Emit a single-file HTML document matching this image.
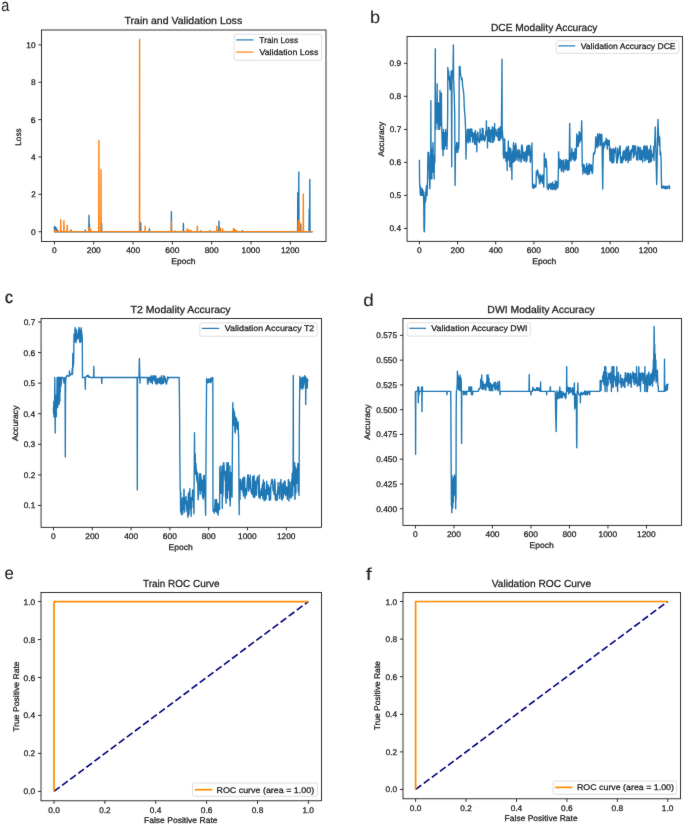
<!DOCTYPE html>
<html><head><meta charset="utf-8"><style>
html,body{margin:0;padding:0;background:#fff;}
svg{display:block;font-family:"Liberation Sans",sans-serif;text-rendering:geometricPrecision;will-change:transform;}
</style></head><body>
<svg width="685" height="825" viewBox="0 0 685 825">
<defs><filter id="soft" filterUnits="userSpaceOnUse" x="0" y="0" width="685" height="825" color-interpolation-filters="sRGB"><feConvolveMatrix order="3" kernelMatrix="1 2 1 2 40 2 1 2 1" divisor="52.0" edgeMode="duplicate"/></filter></defs>
<g filter="url(#soft)">
<rect width="685" height="825" fill="#fff"/>
<rect x="41.50" y="30.00" width="284.50" height="211.40" fill="none" stroke="#000" stroke-width="0.8"/>
<polyline points="54.4,226.1 54.6,231.7 54.8,226.5 55.0,231.7 55.2,227.3 55.4,231.7 55.6,228.0 55.8,231.7 56.0,227.6 56.2,231.7 56.4,228.9 56.6,231.7 56.8,229.5 57.0,231.7 57.2,229.9 57.4,231.7 57.6,231.7 57.8,230.8 58.0,231.7 58.2,231.7 58.4,231.4 58.6,231.7 58.8,231.7 59.0,231.7 59.1,231.7 59.3,231.7 59.5,231.7 59.7,231.7 59.9,231.7 60.1,231.7 60.3,231.7 60.5,231.7 60.7,231.7 60.9,231.7 61.1,231.7 61.3,231.7 61.5,231.7 61.7,231.7 61.9,231.7 62.1,231.7 62.3,231.7 62.5,231.7 62.7,231.7 62.9,231.7 63.1,231.7 63.3,231.7 63.5,231.7 63.7,231.7 63.9,231.7 64.1,231.7 64.3,231.7 64.5,231.7 64.7,231.7 64.8,231.7 65.0,231.7 65.2,231.7 65.4,231.7 65.6,231.7 65.8,231.7 66.0,231.7 66.2,231.7 66.4,231.7 66.6,231.7 66.8,231.7 67.0,231.7 67.2,231.7 67.4,231.7 67.6,231.7 67.8,231.7 68.0,231.7 68.2,231.7 68.4,231.7 68.6,231.7 68.8,231.7 69.0,231.7 69.2,231.7 69.4,231.7 69.6,231.7 69.8,231.7 70.0,231.7 70.2,231.7 70.4,231.7 70.5,231.7 70.7,231.7 70.9,229.9 71.1,231.7 71.3,231.7 71.5,231.7 71.7,231.7 71.9,231.7 72.1,231.7 72.3,231.7 72.5,231.7 72.7,231.7 72.9,231.7 73.1,231.7 73.3,231.7 73.5,231.7 73.7,231.7 73.9,231.7 74.1,231.7 74.3,231.7 74.5,231.7 74.7,231.7 74.9,231.7 75.1,231.7 75.3,231.7 75.5,231.7 75.7,231.7 75.9,231.7 76.1,231.7 76.3,231.7 76.4,231.7 76.6,231.7 76.8,231.7 77.0,231.7 77.2,231.7 77.4,231.7 77.6,231.7 77.8,231.7 78.0,231.7 78.2,231.7 78.4,231.7 78.6,231.7 78.8,231.7 79.0,231.7 79.2,231.7 79.4,231.7 79.6,231.7 79.8,231.7 80.0,231.7 80.2,231.7 80.4,231.7 80.6,231.7 80.8,231.7 81.0,231.7 81.2,231.7 81.4,231.7 81.6,231.7 81.8,231.7 82.0,231.7 82.1,231.7 82.3,231.7 82.5,231.7 82.7,231.7 82.9,231.7 83.1,231.7 83.3,231.7 83.5,231.7 83.7,231.7 83.9,231.7 84.1,231.7 84.3,231.7 84.5,231.7 84.7,231.7 84.9,231.7 85.1,231.7 85.3,230.2 85.5,231.7 85.7,231.7 85.9,231.7 86.1,231.7 86.3,231.7 86.5,231.7 86.7,231.7 86.9,231.7 87.1,231.7 87.3,231.7 87.5,231.7 87.7,231.7 87.8,231.7 88.0,231.7 88.2,231.7 88.4,231.7 88.6,231.7 88.8,231.7 89.0,215.3 89.2,231.7 89.4,224.3 89.6,231.7 89.8,231.7 90.0,231.7 90.2,231.7 90.4,231.7 90.6,231.7 90.8,231.7 91.0,231.7 91.2,231.7 91.4,231.7 91.6,231.7 91.8,231.7 92.0,231.7 92.2,231.7 92.4,231.7 92.6,231.7 92.8,231.7 93.0,231.7 93.2,231.7 93.4,231.7 93.6,231.7 93.7,231.7 93.9,231.7 94.1,231.7 94.3,231.7 94.5,231.7 94.7,231.7 94.9,231.7 95.1,231.7 95.3,231.7 95.5,231.7 95.7,231.7 95.9,231.7 96.1,231.7 96.3,231.7 96.5,231.7 96.7,231.7 96.9,231.7 97.1,231.7 97.3,231.7 97.5,231.7 97.7,231.7 97.9,231.7 98.1,231.7 98.3,231.7 98.5,231.7 98.7,231.7 98.9,231.7 99.1,231.7 99.3,231.7 99.4,231.7 99.6,231.7 99.8,231.7 100.0,231.7 100.2,231.7 100.4,231.7 100.6,231.7 100.8,231.7 101.0,231.7 101.2,231.7 101.4,231.7 101.6,223.3 101.8,231.7 102.0,231.7 102.2,231.7 102.4,231.7 102.6,231.7 102.8,231.7 103.0,231.7 103.2,231.7 103.4,231.7 103.6,231.7 103.8,231.7 104.0,231.7 104.2,231.7 104.4,231.7 104.6,231.7 104.8,231.7 105.0,231.7 105.1,231.7 105.3,231.7 105.5,231.7 105.7,231.7 105.9,231.7 106.1,231.7 106.3,231.7 106.5,231.7 106.7,231.7 106.9,231.7 107.1,231.7 107.3,231.7 107.5,231.7 107.7,231.7 107.9,231.7 108.1,231.7 108.3,231.7 108.5,231.7 108.7,231.7 108.9,231.7 109.1,231.7 109.3,231.7 109.5,231.7 109.7,231.7 109.9,231.7 110.1,231.7 110.3,231.7 110.5,231.7 110.7,231.7 110.8,231.7 111.0,231.7 111.2,231.7 111.4,231.7 111.6,231.7 111.8,231.7 112.0,231.7 112.2,231.7 112.4,231.7 112.6,231.7 112.8,231.7 113.0,231.7 113.2,231.7 113.4,231.7 113.6,231.7 113.8,231.7 114.0,231.7 114.2,231.7 114.4,231.7 114.6,231.7 114.8,231.7 115.0,231.7 115.2,231.7 115.4,231.7 115.6,231.7 115.8,231.7 116.0,231.7 116.2,231.7 116.4,231.7 116.6,231.7 116.7,231.7 116.9,231.7 117.1,231.7 117.3,231.7 117.5,231.7 117.7,231.7 117.9,231.7 118.1,231.7 118.3,231.7 118.5,231.7 118.7,231.7 118.9,231.7 119.1,231.7 119.3,231.7 119.5,231.7 119.7,231.7 119.9,231.7 120.1,231.7 120.3,231.7 120.5,231.7 120.7,231.7 120.9,231.7 121.1,231.7 121.3,231.7 121.5,231.7 121.7,231.7 121.9,231.7 122.1,231.7 122.3,231.7 122.4,231.7 122.6,231.7 122.8,231.7 123.0,231.7 123.2,231.7 123.4,231.7 123.6,231.7 123.8,231.7 124.0,231.7 124.2,231.7 124.4,231.7 124.6,231.7 124.8,231.7 125.0,231.7 125.2,231.7 125.4,231.7 125.6,231.7 125.8,231.7 126.0,231.7 126.2,231.7 126.4,231.7 126.6,231.7 126.8,231.7 127.0,231.7 127.2,231.7 127.4,231.7 127.6,231.7 127.8,231.7 128.0,231.7 128.1,231.7 128.3,231.7 128.5,231.7 128.7,231.7 128.9,231.7 129.1,231.7 129.3,231.7 129.5,231.7 129.7,231.7 129.9,231.7 130.1,231.7 130.3,231.7 130.5,231.7 130.7,231.7 130.9,231.7 131.1,231.7 131.3,231.7 131.5,231.7 131.7,231.7 131.9,231.7 132.1,231.7 132.3,231.7 132.5,231.7 132.7,231.7 132.9,231.7 133.1,231.7 133.3,231.7 133.5,231.7 133.7,231.7 133.8,231.7 134.0,231.7 134.2,231.7 134.4,231.7 134.6,231.7 134.8,231.7 135.0,231.7 135.2,231.7 135.4,231.7 135.6,231.7 135.8,231.7 136.0,231.7 136.2,231.7 136.4,231.7 136.6,231.7 136.8,231.7 137.0,231.7 137.2,231.7 137.4,231.7 137.6,231.7 137.8,231.7 138.0,231.7 138.2,231.7 138.4,231.7 138.6,231.7 138.8,231.7 139.0,231.7 139.2,231.7 139.4,231.7 139.6,231.7 139.7,231.7 139.9,231.7 140.1,231.7 140.3,231.7 140.5,231.7 140.7,222.6 140.9,231.7 141.1,231.7 141.3,231.7 141.5,231.7 141.7,231.7 141.9,231.7 142.1,231.7 142.3,231.7 142.5,231.7 142.7,231.7 142.9,231.7 143.1,231.7 143.3,231.7 143.5,231.7 143.7,231.7 143.9,231.7 144.1,231.7 144.3,231.7 144.5,231.7 144.7,231.7 144.9,231.7 145.1,231.7 145.3,231.7 145.4,231.7 145.6,231.7 145.8,231.7 146.0,231.7 146.2,231.7 146.4,231.7 146.6,231.7 146.8,231.7 147.0,231.7 147.2,231.7 147.4,231.7 147.6,231.7 147.8,231.7 148.0,231.7 148.2,231.7 148.4,231.7 148.6,231.7 148.8,231.7 149.0,231.7 149.2,231.7 149.4,228.9 149.6,231.7 149.8,231.7 150.0,231.7 150.2,231.7 150.4,231.7 150.6,231.7 150.8,231.7 151.0,231.7 151.1,231.7 151.3,231.7 151.5,231.7 151.7,231.7 151.9,231.7 152.1,231.7 152.3,231.7 152.5,231.7 152.7,231.7 152.9,231.7 153.1,231.7 153.3,231.7 153.5,231.7 153.7,231.7 153.9,231.7 154.1,231.7 154.3,231.7 154.5,231.7 154.7,231.7 154.9,231.7 155.1,231.7 155.3,231.7 155.5,231.7 155.7,231.7 155.9,231.7 156.1,231.7 156.3,231.7 156.5,231.7 156.7,231.7 156.8,231.7 157.0,231.7 157.2,231.7 157.4,231.7 157.6,231.7 157.8,231.7 158.0,231.7 158.2,231.7 158.4,231.7 158.6,231.7 158.8,231.7 159.0,231.7 159.2,231.7 159.4,231.7 159.6,231.7 159.8,231.7 160.0,231.7 160.2,231.7 160.4,231.7 160.6,231.7 160.8,231.7 161.0,231.7 161.2,231.7 161.4,231.7 161.6,231.7 161.8,231.7 162.0,231.7 162.2,231.7 162.4,231.7 162.6,231.7 162.7,231.7 162.9,231.7 163.1,231.7 163.3,231.7 163.5,231.7 163.7,231.7 163.9,231.7 164.1,231.7 164.3,231.7 164.5,231.7 164.7,231.7 164.9,231.7 165.1,231.7 165.3,231.7 165.5,231.7 165.7,231.7 165.9,231.7 166.1,231.7 166.3,231.7 166.5,231.7 166.7,231.7 166.9,231.7 167.1,231.7 167.3,231.7 167.5,231.7 167.7,231.7 167.9,231.7 168.1,231.7 168.3,231.7 168.4,231.7 168.6,231.7 168.8,231.7 169.0,231.7 169.2,231.7 169.4,231.7 169.6,231.7 169.8,231.7 170.0,231.7 170.2,231.7 170.4,231.7 170.6,231.7 170.8,231.7 171.0,231.7 171.2,231.7 171.4,211.6 171.6,231.7 171.8,231.7 172.0,231.7 172.2,231.7 172.4,231.7 172.6,231.7 172.8,231.7 173.0,231.7 173.2,231.7 173.4,231.7 173.6,231.7 173.8,231.7 174.0,231.7 174.1,231.7 174.3,231.7 174.5,231.7 174.7,231.7 174.9,231.7 175.1,231.7 175.3,231.7 175.5,231.7 175.7,231.7 175.9,231.7 176.1,231.7 176.3,231.7 176.5,231.7 176.7,231.7 176.9,231.7 177.1,231.7 177.3,231.7 177.5,231.7 177.7,231.7 177.9,231.7 178.1,231.7 178.3,231.7 178.5,231.7 178.7,231.7 178.9,231.7 179.1,231.7 179.3,231.7 179.5,231.7 179.7,231.7 179.9,231.7 180.0,231.7 180.2,231.7 180.4,231.7 180.6,231.7 180.8,231.7 181.0,231.7 181.2,231.7 181.4,231.7 181.6,231.7 181.8,231.7 182.0,231.7 182.2,231.7 182.4,231.7 182.6,231.7 182.8,231.7 183.0,231.7 183.2,231.7 183.4,223.3 183.6,231.7 183.8,231.7 184.0,231.7 184.2,231.7 184.4,231.7 184.6,231.7 184.8,231.7 185.0,231.7 185.2,231.7 185.4,231.7 185.6,231.7 185.7,231.7 185.9,231.7 186.1,231.7 186.3,231.7 186.5,231.7 186.7,231.7 186.9,231.7 187.1,231.7 187.3,231.7 187.5,231.7 187.7,231.7 187.9,231.7 188.1,231.7 188.3,231.7 188.5,231.7 188.7,231.7 188.9,231.7 189.1,231.7 189.3,231.7 189.5,231.7 189.7,231.7 189.9,231.7 190.1,231.7 190.3,231.7 190.5,231.7 190.7,231.7 190.9,231.7 191.1,231.7 191.3,231.7 191.4,231.7 191.6,231.7 191.8,231.7 192.0,231.7 192.2,231.7 192.4,231.7 192.6,231.7 192.8,231.7 193.0,231.7 193.2,231.7 193.4,231.7 193.6,231.7 193.8,231.7 194.0,231.7 194.2,231.7 194.4,231.7 194.6,231.7 194.8,231.7 195.0,231.7 195.2,231.7 195.4,231.7 195.6,231.7 195.8,231.7 196.0,231.7 196.2,231.7 196.4,231.7 196.6,231.7 196.8,231.7 197.0,231.7 197.1,231.7 197.3,231.7 197.5,231.7 197.7,231.7 197.9,231.7 198.1,231.7 198.3,231.7 198.5,231.7 198.7,231.7 198.9,231.7 199.1,231.7 199.3,231.7 199.5,231.7 199.7,231.7 199.9,231.7 200.1,231.7 200.3,231.7 200.5,231.7 200.7,231.7 200.9,230.8 201.1,231.7 201.3,231.7 201.5,231.7 201.7,231.7 201.9,231.7 202.1,231.7 202.3,231.7 202.5,231.7 202.7,231.7 202.9,231.7 203.0,231.7 203.2,231.7 203.4,231.7 203.6,231.7 203.8,231.7 204.0,231.7 204.2,231.7 204.4,231.7 204.6,231.7 204.8,231.7 205.0,231.7 205.2,231.7 205.4,231.7 205.6,231.7 205.8,231.7 206.0,231.7 206.2,231.7 206.4,231.7 206.6,231.7 206.8,231.7 207.0,231.7 207.2,231.7 207.4,231.7 207.6,231.7 207.8,231.7 208.0,231.7 208.2,231.7 208.4,231.7 208.6,231.7 208.7,231.7 208.9,231.7 209.1,231.7 209.3,231.7 209.5,231.7 209.7,231.7 209.9,230.6 210.1,231.7 210.3,231.7 210.5,231.7 210.7,231.7 210.9,231.7 211.1,231.7 211.3,231.7 211.5,231.7 211.7,231.7 211.9,231.7 212.1,231.7 212.3,231.7 212.5,231.7 212.7,231.7 212.9,231.7 213.1,231.7 213.3,231.7 213.5,231.7 213.7,231.7 213.9,231.7 214.1,231.7 214.3,231.7 214.4,231.7 214.6,231.7 214.8,231.7 215.0,231.7 215.2,231.7 215.4,231.7 215.6,231.7 215.8,231.7 216.0,231.7 216.2,231.7 216.4,231.7 216.6,231.7 216.8,231.7 217.0,231.7 217.2,231.7 217.4,231.7 217.6,231.7 217.8,231.7 218.0,231.7 218.2,231.7 218.4,231.7 218.6,231.7 218.8,231.7 219.0,221.1 219.2,231.7 219.4,231.7 219.6,231.7 219.8,231.7 220.0,231.7 220.1,231.7 220.3,231.7 220.5,231.7 220.7,231.7 220.9,231.7 221.1,231.7 221.3,231.7 221.5,231.7 221.7,231.7 221.9,231.7 222.1,231.7 222.3,231.7 222.5,231.7 222.7,231.7 222.9,231.7 223.1,231.7 223.3,231.7 223.5,231.7 223.7,231.7 223.9,231.7 224.1,231.7 224.3,231.7 224.5,231.7 224.7,231.7 224.9,231.7 225.1,231.7 225.3,231.7 225.5,231.7 225.7,231.7 225.9,231.7 226.0,231.7 226.2,231.7 226.4,231.7 226.6,231.7 226.8,231.7 227.0,231.7 227.2,231.7 227.4,231.7 227.6,231.7 227.8,231.7 228.0,231.7 228.2,231.7 228.4,231.7 228.6,231.7 228.8,231.7 229.0,231.7 229.2,231.7 229.4,231.7 229.6,231.7 229.8,231.7 230.0,231.7 230.2,231.7 230.4,231.7 230.6,231.7 230.8,231.7 231.0,231.7 231.2,231.7 231.4,231.7 231.6,231.7 231.7,231.7 231.9,231.7 232.1,231.7 232.3,231.7 232.5,231.7 232.7,231.7 232.9,231.7 233.1,231.7 233.3,231.7 233.5,231.7 233.7,231.7 233.9,231.7 234.1,231.7 234.3,231.7 234.5,231.7 234.7,231.7 234.9,231.7 235.1,231.7 235.3,231.7 235.5,231.7 235.7,231.7 235.9,231.7 236.1,231.7 236.3,231.7 236.5,231.7 236.7,231.7 236.9,231.7 237.1,231.7 237.3,231.7 237.4,231.7 237.6,231.7 237.8,231.7 238.0,231.7 238.2,231.7 238.4,231.7 238.6,231.7 238.8,231.7 239.0,231.7 239.2,231.7 239.4,231.7 239.6,231.7 239.8,231.7 240.0,231.7 240.2,231.7 240.4,231.7 240.6,231.7 240.8,231.7 241.0,231.7 241.2,231.7 241.4,231.7 241.6,231.7 241.8,231.7 242.0,231.7 242.2,231.7 242.4,231.7 242.6,230.6 242.8,231.7 243.0,231.7 243.1,231.7 243.3,231.7 243.5,231.7 243.7,231.7 243.9,231.7 244.1,231.7 244.3,231.7 244.5,231.7 244.7,231.7 244.9,231.7 245.1,231.7 245.3,231.7 245.5,231.7 245.7,231.7 245.9,231.7 246.1,231.7 246.3,231.7 246.5,231.7 246.7,231.7 246.9,231.7 247.1,231.7 247.3,231.7 247.5,231.7 247.7,231.7 247.9,231.7 248.1,231.7 248.3,231.7 248.5,231.7 248.7,231.7 248.9,231.7 249.0,231.7 249.2,231.7 249.4,231.7 249.6,231.7 249.8,231.7 250.0,231.7 250.2,231.7 250.4,231.7 250.6,231.7 250.8,231.7 251.0,231.7 251.2,231.7 251.4,231.7 251.6,231.7 251.8,231.7 252.0,231.7 252.2,231.7 252.4,231.7 252.6,231.7 252.8,231.7 253.0,231.7 253.2,231.7 253.4,231.7 253.6,231.7 253.8,231.7 254.0,231.7 254.2,231.7 254.4,231.7 254.6,231.7 254.7,231.7 254.9,231.7 255.1,231.7 255.3,231.7 255.5,231.7 255.7,231.7 255.9,231.7 256.1,231.7 256.3,231.7 256.5,231.7 256.7,231.7 256.9,231.7 257.1,231.7 257.3,231.7 257.5,231.7 257.7,231.7 257.9,231.7 258.1,231.7 258.3,231.7 258.5,231.7 258.7,231.7 258.9,231.7 259.1,231.7 259.3,231.7 259.5,231.7 259.7,231.7 259.9,231.7 260.1,231.7 260.3,231.7 260.4,231.7 260.6,231.7 260.8,231.7 261.0,231.7 261.2,231.7 261.4,231.7 261.6,231.7 261.8,231.7 262.0,231.7 262.2,231.7 262.4,231.7 262.6,231.7 262.8,231.7 263.0,231.7 263.2,231.7 263.4,231.7 263.6,231.7 263.8,231.7 264.0,231.7 264.2,231.7 264.4,231.7 264.6,231.7 264.8,231.7 265.0,231.7 265.2,231.7 265.4,231.7 265.6,231.7 265.8,231.7 266.0,231.7 266.2,231.7 266.3,231.7 266.5,231.7 266.7,231.7 266.9,231.7 267.1,231.7 267.3,231.7 267.5,231.7 267.7,231.7 267.9,231.7 268.1,231.7 268.3,231.7 268.5,231.7 268.7,231.7 268.9,231.7 269.1,231.7 269.3,231.7 269.5,231.7 269.7,231.7 269.9,231.7 270.1,231.7 270.3,231.7 270.5,231.7 270.7,231.7 270.9,231.7 271.1,231.7 271.3,231.7 271.5,231.7 271.7,231.7 271.9,231.7 272.0,231.7 272.2,231.7 272.4,231.7 272.6,231.7 272.8,231.7 273.0,231.7 273.2,231.7 273.4,231.7 273.6,231.7 273.8,231.7 274.0,231.7 274.2,231.7 274.4,231.7 274.6,231.7 274.8,231.7 275.0,231.7 275.2,231.7 275.4,231.7 275.6,231.7 275.8,231.7 276.0,231.7 276.2,231.7 276.4,231.7 276.6,231.7 276.8,231.7 277.0,231.7 277.2,231.7 277.4,231.7 277.6,231.7 277.7,231.7 277.9,231.7 278.1,231.7 278.3,231.7 278.5,231.7 278.7,231.7 278.9,231.7 279.1,231.7 279.3,231.7 279.5,231.7 279.7,231.7 279.9,231.7 280.1,231.7 280.3,231.7 280.5,231.7 280.7,231.7 280.9,231.7 281.1,231.7 281.3,231.7 281.5,231.7 281.7,231.7 281.9,231.7 282.1,231.7 282.3,231.7 282.5,231.7 282.7,231.7 282.9,231.7 283.1,231.7 283.3,231.7 283.4,231.7 283.6,231.7 283.8,231.7 284.0,231.7 284.2,231.7 284.4,231.7 284.6,231.7 284.8,231.7 285.0,231.7 285.2,231.7 285.4,231.7 285.6,231.7 285.8,231.7 286.0,231.7 286.2,231.7 286.4,231.7 286.6,231.7 286.8,231.7 287.0,231.7 287.2,231.7 287.4,231.7 287.6,231.7 287.8,231.7 288.0,231.7 288.2,231.7 288.4,231.7 288.6,231.7 288.8,231.7 289.0,231.7 289.2,231.7 289.3,231.7 289.5,231.7 289.7,231.7 289.9,231.7 290.1,231.7 290.3,231.7 290.5,231.7 290.7,231.7 290.9,231.7 291.1,231.7 291.3,231.7 291.5,231.7 291.7,231.7 291.9,231.7 292.1,231.7 292.3,231.7 292.5,231.7 292.7,231.7 292.9,231.7 293.1,231.7 293.3,231.7 293.5,231.7 293.7,231.7 293.9,231.7 294.1,231.7 294.3,231.7 294.5,231.7 294.7,231.7 294.9,231.7 295.0,231.7 295.2,231.7 295.4,231.7 295.6,231.7 295.8,231.7 296.0,231.7 296.2,231.7 296.4,231.7 296.6,231.7 296.8,231.7 297.0,231.7 297.2,231.7 297.4,231.7 297.6,231.7 297.8,192.5 298.0,231.7 298.2,231.7 298.4,231.7 298.6,231.7 298.8,171.9 299.0,231.7 299.2,231.7 299.4,231.7 299.6,231.7 299.8,231.7 300.0,231.7 300.2,231.7 300.4,231.7 300.6,231.7 300.7,224.1 300.9,231.7 301.1,231.7 301.3,231.7 301.5,231.7 301.7,231.7 301.9,231.7 302.1,231.7 302.3,231.7 302.5,231.7 302.7,231.7 302.9,231.7 303.1,231.7 303.3,231.7 303.5,231.7 303.7,231.7 303.9,231.7 304.1,231.7 304.3,231.7 304.5,231.7 304.7,231.7 304.9,231.7 305.1,231.7 305.3,231.7 305.5,231.7 305.7,231.7 305.9,231.7 306.1,231.7 306.3,231.7 306.4,231.7 306.6,231.7 306.8,231.7 307.0,231.7 307.2,231.7 307.4,231.7 307.6,231.7 307.8,231.7 308.0,231.7 308.2,231.7 308.4,231.7 308.6,231.7 308.8,231.7 309.0,231.7 309.2,209.3 309.4,231.7 309.6,231.7 309.8,179.4 310.0,231.7 310.2,231.7 310.4,231.7 310.6,231.7 310.8,231.7 311.0,231.7 311.2,231.7 311.4,231.7 311.6,231.7 311.8,231.7 312.0,231.7 312.2,231.7 312.3,231.7 312.5,231.7" fill="none" stroke="#1f77b4" stroke-width="1.35" stroke-linejoin="round" />
<polyline points="54.4,229.9 54.6,231.6 54.8,231.6 55.0,230.6 55.2,231.6 55.4,231.6 55.6,230.2 55.8,231.6 56.0,231.6 56.2,231.6 56.4,230.8 56.6,231.6 56.8,231.6 57.0,231.6 57.2,231.6 57.4,231.6 57.6,231.6 57.8,231.6 58.0,231.6 58.2,231.6 58.4,231.6 58.6,231.6 58.8,231.6 59.0,231.6 59.1,231.6 59.3,231.6 59.5,231.6 59.7,231.6 59.9,231.6 60.1,231.6 60.3,231.6 60.5,231.6 60.7,219.7 60.9,231.6 61.1,231.6 61.3,231.6 61.5,231.6 61.7,231.6 61.9,231.6 62.1,231.6 62.3,231.6 62.5,231.6 62.7,231.6 62.9,231.6 63.1,231.6 63.3,231.6 63.5,231.6 63.7,231.6 63.9,220.7 64.1,231.6 64.3,231.6 64.5,231.6 64.7,231.6 64.8,231.6 65.0,231.6 65.2,231.6 65.4,231.6 65.6,231.6 65.8,231.6 66.0,231.6 66.2,231.6 66.4,231.6 66.6,231.6 66.8,231.6 67.0,231.6 67.2,225.2 67.4,231.6 67.6,231.6 67.8,231.6 68.0,231.6 68.2,231.6 68.4,231.6 68.6,231.6 68.8,231.6 69.0,231.6 69.2,231.6 69.4,231.6 69.6,231.6 69.8,231.6 70.0,231.6 70.2,231.6 70.4,231.6 70.5,231.6 70.7,231.6 70.9,229.9 71.1,231.6 71.3,231.6 71.5,231.6 71.7,231.6 71.9,231.6 72.1,231.6 72.3,231.6 72.5,231.6 72.7,231.6 72.9,231.6 73.1,231.6 73.3,231.6 73.5,231.6 73.7,231.6 73.9,231.6 74.1,231.6 74.3,231.6 74.5,231.6 74.7,231.6 74.9,231.6 75.1,231.6 75.3,231.6 75.5,231.6 75.7,231.6 75.9,231.6 76.1,231.6 76.3,231.6 76.4,231.6 76.6,231.6 76.8,231.6 77.0,231.6 77.2,231.6 77.4,231.6 77.6,231.6 77.8,231.6 78.0,231.6 78.2,231.6 78.4,231.6 78.6,231.6 78.8,231.6 79.0,231.6 79.2,231.6 79.4,231.6 79.6,231.6 79.8,231.6 80.0,231.6 80.2,231.6 80.4,231.6 80.6,231.6 80.8,231.6 81.0,231.6 81.2,231.6 81.4,231.6 81.6,231.6 81.8,231.6 82.0,231.6 82.1,231.6 82.3,231.6 82.5,231.6 82.7,231.6 82.9,231.6 83.1,231.6 83.3,231.6 83.5,231.6 83.7,231.6 83.9,231.6 84.1,231.6 84.3,231.6 84.5,231.6 84.7,231.6 84.9,231.6 85.1,231.6 85.3,231.6 85.5,231.6 85.7,231.6 85.9,231.6 86.1,231.6 86.3,231.6 86.5,231.6 86.7,231.6 86.9,231.6 87.1,231.6 87.3,231.6 87.5,231.6 87.7,231.6 87.8,231.6 88.0,231.6 88.2,231.6 88.4,231.6 88.6,231.6 88.8,231.6 89.0,227.1 89.2,231.6 89.4,231.6 89.6,231.6 89.8,228.0 90.0,231.6 90.2,231.6 90.4,231.6 90.6,231.6 90.8,229.5 91.0,231.6 91.2,231.6 91.4,231.6 91.6,231.6 91.8,231.6 92.0,231.6 92.2,231.6 92.4,231.6 92.6,231.6 92.8,231.6 93.0,231.6 93.2,231.6 93.4,231.6 93.6,231.6 93.7,231.6 93.9,231.6 94.1,231.6 94.3,231.6 94.5,231.6 94.7,231.6 94.9,231.6 95.1,231.6 95.3,231.6 95.5,231.6 95.7,231.6 95.9,231.6 96.1,231.6 96.3,231.6 96.5,231.6 96.7,231.6 96.9,231.6 97.1,231.6 97.3,231.6 97.5,231.6 97.7,231.6 97.9,231.6 98.1,231.6 98.3,231.6 98.5,231.6 98.7,231.6 98.9,140.2 99.1,231.6 99.3,231.6 99.4,231.6 99.6,231.6 99.8,231.6 100.0,231.6 100.2,231.6 100.4,231.6 100.6,231.6 100.8,231.6 101.0,169.7 101.2,231.6 101.4,231.6 101.6,231.6 101.8,231.6 102.0,231.6 102.2,231.6 102.4,231.6 102.6,231.6 102.8,231.6 103.0,231.6 103.2,231.6 103.4,231.6 103.6,231.6 103.8,231.6 104.0,231.6 104.2,231.6 104.4,231.6 104.6,231.6 104.8,231.6 105.0,231.6 105.1,231.6 105.3,231.6 105.5,231.6 105.7,231.6 105.9,231.6 106.1,231.6 106.3,231.6 106.5,231.6 106.7,231.6 106.9,231.6 107.1,231.6 107.3,231.6 107.5,231.6 107.7,231.6 107.9,231.6 108.1,231.6 108.3,231.6 108.5,231.6 108.7,231.6 108.9,231.6 109.1,231.6 109.3,231.6 109.5,231.6 109.7,231.6 109.9,231.6 110.1,231.6 110.3,231.6 110.5,231.6 110.7,231.6 110.8,231.6 111.0,231.6 111.2,231.6 111.4,231.6 111.6,231.6 111.8,231.6 112.0,231.6 112.2,231.6 112.4,231.6 112.6,231.6 112.8,231.6 113.0,231.6 113.2,231.6 113.4,231.6 113.6,231.6 113.8,231.6 114.0,231.6 114.2,231.6 114.4,231.6 114.6,231.6 114.8,231.6 115.0,231.6 115.2,231.6 115.4,231.6 115.6,231.6 115.8,231.6 116.0,231.6 116.2,231.6 116.4,231.6 116.6,231.6 116.7,231.6 116.9,231.6 117.1,231.6 117.3,231.6 117.5,231.6 117.7,231.6 117.9,231.6 118.1,231.6 118.3,231.6 118.5,231.6 118.7,231.6 118.9,231.6 119.1,231.6 119.3,231.6 119.5,231.6 119.7,231.6 119.9,231.6 120.1,231.6 120.3,231.6 120.5,231.6 120.7,231.6 120.9,231.6 121.1,231.6 121.3,231.6 121.5,231.6 121.7,231.6 121.9,231.6 122.1,231.6 122.3,231.6 122.4,231.6 122.6,231.6 122.8,231.6 123.0,231.6 123.2,231.6 123.4,231.6 123.6,231.6 123.8,231.6 124.0,231.6 124.2,231.6 124.4,231.6 124.6,231.6 124.8,231.6 125.0,231.6 125.2,231.6 125.4,231.6 125.6,231.6 125.8,231.6 126.0,231.6 126.2,231.6 126.4,231.6 126.6,231.6 126.8,231.6 127.0,231.6 127.2,231.6 127.4,231.6 127.6,231.6 127.8,231.6 128.0,231.6 128.1,231.6 128.3,231.6 128.5,231.6 128.7,231.6 128.9,231.6 129.1,231.6 129.3,231.6 129.5,231.6 129.7,231.6 129.9,231.6 130.1,231.6 130.3,231.6 130.5,231.6 130.7,231.6 130.9,231.6 131.1,231.6 131.3,231.6 131.5,231.6 131.7,231.6 131.9,231.6 132.1,231.6 132.3,231.6 132.5,231.6 132.7,231.6 132.9,231.6 133.1,231.6 133.3,231.6 133.5,231.6 133.7,231.6 133.8,231.6 134.0,231.6 134.2,231.6 134.4,231.6 134.6,231.6 134.8,231.6 135.0,231.6 135.2,231.6 135.4,231.6 135.6,231.6 135.8,231.6 136.0,231.6 136.2,231.6 136.4,231.6 136.6,231.6 136.8,231.6 137.0,231.6 137.2,231.6 137.4,231.6 137.6,231.6 137.8,231.6 138.0,231.6 138.2,231.6 138.4,231.6 138.6,231.6 138.8,231.6 139.0,231.6 139.2,231.6 139.4,231.6 139.6,39.3 139.7,231.6 139.9,231.6 140.1,231.6 140.3,231.6 140.5,231.6 140.7,231.6 140.9,231.6 141.1,231.6 141.3,231.6 141.5,231.6 141.7,231.6 141.9,231.6 142.1,231.6 142.3,231.6 142.5,231.6 142.7,231.6 142.9,231.6 143.1,231.6 143.3,231.6 143.5,231.6 143.7,231.6 143.9,231.6 144.1,231.6 144.3,231.6 144.5,231.6 144.7,231.6 144.9,231.6 145.1,226.1 145.3,231.6 145.4,231.6 145.6,231.6 145.8,231.6 146.0,231.6 146.2,231.6 146.4,231.6 146.6,231.6 146.8,231.6 147.0,231.6 147.2,231.6 147.4,231.6 147.6,231.6 147.8,231.6 148.0,231.6 148.2,231.6 148.4,231.6 148.6,231.6 148.8,231.6 149.0,231.6 149.2,231.6 149.4,231.6 149.6,231.6 149.8,231.6 150.0,231.6 150.2,231.6 150.4,231.6 150.6,231.6 150.8,231.6 151.0,231.6 151.1,231.6 151.3,231.6 151.5,231.6 151.7,231.6 151.9,231.6 152.1,231.6 152.3,231.6 152.5,231.6 152.7,231.6 152.9,231.6 153.1,231.6 153.3,231.6 153.5,231.6 153.7,231.6 153.9,231.6 154.1,231.6 154.3,231.6 154.5,231.6 154.7,231.6 154.9,231.6 155.1,231.6 155.3,231.6 155.5,231.6 155.7,231.6 155.9,231.6 156.1,231.6 156.3,231.6 156.5,231.6 156.7,231.6 156.8,231.6 157.0,231.6 157.2,231.6 157.4,231.6 157.6,231.6 157.8,231.6 158.0,231.6 158.2,231.6 158.4,231.6 158.6,231.6 158.8,231.6 159.0,231.6 159.2,231.6 159.4,231.6 159.6,231.6 159.8,231.6 160.0,231.6 160.2,231.6 160.4,231.6 160.6,231.6 160.8,231.6 161.0,231.6 161.2,231.6 161.4,231.6 161.6,231.6 161.8,231.6 162.0,231.6 162.2,231.6 162.4,231.6 162.6,231.6 162.7,231.6 162.9,231.6 163.1,231.6 163.3,231.6 163.5,231.6 163.7,231.6 163.9,231.6 164.1,231.6 164.3,231.6 164.5,231.6 164.7,231.6 164.9,231.6 165.1,231.6 165.3,231.6 165.5,231.6 165.7,231.6 165.9,231.6 166.1,231.6 166.3,231.6 166.5,231.6 166.7,231.6 166.9,231.6 167.1,231.6 167.3,231.6 167.5,231.6 167.7,231.6 167.9,231.6 168.1,231.6 168.3,231.6 168.4,231.6 168.6,231.6 168.8,231.6 169.0,231.6 169.2,231.6 169.4,231.6 169.6,231.6 169.8,231.6 170.0,231.6 170.2,231.6 170.4,231.6 170.6,231.6 170.8,231.6 171.0,231.6 171.2,231.6 171.4,221.8 171.6,231.6 171.8,231.6 172.0,231.6 172.2,231.6 172.4,231.6 172.6,231.6 172.8,231.6 173.0,231.6 173.2,231.6 173.4,231.6 173.6,231.6 173.8,231.6 174.0,231.6 174.1,231.6 174.3,231.6 174.5,231.6 174.7,231.6 174.9,231.6 175.1,231.6 175.3,230.8 175.5,231.6 175.7,231.6 175.9,231.6 176.1,231.6 176.3,231.6 176.5,231.6 176.7,231.6 176.9,231.6 177.1,231.6 177.3,231.6 177.5,231.6 177.7,231.6 177.9,231.6 178.1,231.6 178.3,231.6 178.5,231.6 178.7,231.6 178.9,231.6 179.1,231.6 179.3,231.6 179.5,231.6 179.7,231.6 179.9,231.6 180.0,231.6 180.2,231.6 180.4,231.6 180.6,231.6 180.8,231.6 181.0,231.6 181.2,231.6 181.4,231.6 181.6,231.6 181.8,231.6 182.0,231.6 182.2,231.6 182.4,231.6 182.6,231.6 182.8,231.6 183.0,231.6 183.2,231.6 183.4,231.6 183.6,231.6 183.8,231.6 184.0,231.6 184.2,231.6 184.4,231.6 184.6,231.6 184.8,231.6 185.0,231.6 185.2,231.6 185.4,231.6 185.6,231.6 185.7,231.6 185.9,231.6 186.1,231.6 186.3,231.6 186.5,231.6 186.7,231.6 186.9,231.6 187.1,228.9 187.3,231.6 187.5,231.6 187.7,231.6 187.9,231.6 188.1,229.5 188.3,231.6 188.5,231.6 188.7,231.6 188.9,231.6 189.1,231.6 189.3,231.6 189.5,231.6 189.7,231.6 189.9,231.6 190.1,230.2 190.3,231.6 190.5,231.6 190.7,231.6 190.9,231.6 191.1,231.6 191.3,231.6 191.4,230.8 191.6,231.6 191.8,231.6 192.0,231.6 192.2,231.6 192.4,231.6 192.6,231.6 192.8,231.6 193.0,231.6 193.2,231.6 193.4,231.6 193.6,231.6 193.8,231.6 194.0,231.6 194.2,231.6 194.4,231.6 194.6,231.6 194.8,231.6 195.0,231.6 195.2,231.6 195.4,231.6 195.6,231.6 195.8,231.6 196.0,231.6 196.2,231.6 196.4,231.6 196.6,231.6 196.8,231.6 197.0,231.6 197.1,231.6 197.3,226.1 197.5,231.6 197.7,231.6 197.9,231.6 198.1,231.6 198.3,231.6 198.5,231.6 198.7,231.6 198.9,231.6 199.1,231.6 199.3,231.6 199.5,231.6 199.7,231.6 199.9,231.6 200.1,231.6 200.3,231.6 200.5,231.6 200.7,231.6 200.9,231.6 201.1,231.6 201.3,231.6 201.5,231.6 201.7,231.6 201.9,231.6 202.1,231.6 202.3,231.6 202.5,231.6 202.7,231.6 202.9,231.6 203.0,231.6 203.2,231.6 203.4,231.6 203.6,231.6 203.8,231.6 204.0,231.6 204.2,231.6 204.4,231.6 204.6,231.6 204.8,231.6 205.0,231.6 205.2,231.6 205.4,231.6 205.6,231.6 205.8,231.6 206.0,231.6 206.2,231.6 206.4,231.6 206.6,231.6 206.8,231.6 207.0,231.6 207.2,231.6 207.4,231.6 207.6,231.6 207.8,231.6 208.0,231.6 208.2,231.6 208.4,231.6 208.6,231.6 208.7,231.6 208.9,231.6 209.1,231.6 209.3,231.6 209.5,231.6 209.7,231.6 209.9,231.6 210.1,231.6 210.3,231.6 210.5,231.6 210.7,231.6 210.9,231.6 211.1,231.6 211.3,231.6 211.5,231.6 211.7,231.6 211.9,231.6 212.1,231.6 212.3,231.6 212.5,231.6 212.7,231.6 212.9,231.6 213.1,231.6 213.3,231.6 213.5,231.6 213.7,231.6 213.9,231.6 214.1,231.6 214.3,231.6 214.4,231.6 214.6,231.6 214.8,231.6 215.0,231.6 215.2,231.6 215.4,231.6 215.6,231.6 215.8,231.6 216.0,231.6 216.2,231.6 216.4,231.6 216.6,231.6 216.8,226.1 217.0,231.6 217.2,231.6 217.4,231.6 217.6,231.6 217.8,231.6 218.0,231.6 218.2,231.6 218.4,231.6 218.6,231.6 218.8,231.6 219.0,231.6 219.2,231.6 219.4,231.6 219.6,231.6 219.8,231.6 220.0,231.6 220.1,231.6 220.3,231.6 220.5,228.0 220.7,231.6 220.9,231.6 221.1,231.6 221.3,231.6 221.5,231.6 221.7,231.6 221.9,231.6 222.1,231.6 222.3,231.6 222.5,231.6 222.7,228.9 222.9,231.6 223.1,231.6 223.3,231.6 223.5,231.6 223.7,231.6 223.9,231.6 224.1,231.6 224.3,231.6 224.5,231.6 224.7,231.6 224.9,231.6 225.1,231.6 225.3,231.6 225.5,231.6 225.7,231.6 225.9,231.6 226.0,231.6 226.2,231.6 226.4,231.6 226.6,231.6 226.8,231.6 227.0,231.6 227.2,231.6 227.4,231.6 227.6,231.6 227.8,231.6 228.0,231.6 228.2,231.6 228.4,231.6 228.6,231.6 228.8,231.6 229.0,231.6 229.2,231.6 229.4,231.6 229.6,231.6 229.8,231.6 230.0,231.6 230.2,231.6 230.4,231.6 230.6,231.6 230.8,231.6 231.0,231.6 231.2,231.6 231.4,231.6 231.6,231.6 231.7,231.6 231.9,231.6 232.1,231.6 232.3,231.6 232.5,231.6 232.7,231.6 232.9,231.6 233.1,231.6 233.3,231.6 233.5,228.4 233.7,231.6 233.9,231.6 234.1,231.6 234.3,229.1 234.5,231.6 234.7,231.6 234.9,231.6 235.1,231.6 235.3,229.9 235.5,231.6 235.7,231.6 235.9,231.6 236.1,231.6 236.3,231.6 236.5,231.6 236.7,230.8 236.9,231.6 237.1,231.6 237.3,231.6 237.4,231.6 237.6,231.6 237.8,231.6 238.0,231.6 238.2,231.6 238.4,231.6 238.6,231.6 238.8,231.6 239.0,231.6 239.2,231.6 239.4,231.6 239.6,231.6 239.8,231.6 240.0,231.6 240.2,231.6 240.4,231.6 240.6,231.6 240.8,231.6 241.0,231.6 241.2,231.6 241.4,231.6 241.6,231.6 241.8,231.6 242.0,231.6 242.2,231.6 242.4,231.6 242.6,231.6 242.8,231.6 243.0,231.6 243.1,231.6 243.3,231.6 243.5,231.6 243.7,231.6 243.9,231.6 244.1,231.6 244.3,231.6 244.5,231.6 244.7,231.6 244.9,231.6 245.1,231.6 245.3,231.6 245.5,231.6 245.7,231.6 245.9,231.6 246.1,231.6 246.3,231.6 246.5,231.6 246.7,231.6 246.9,231.6 247.1,231.6 247.3,231.6 247.5,231.6 247.7,231.6 247.9,231.6 248.1,231.6 248.3,231.6 248.5,231.6 248.7,231.6 248.9,231.6 249.0,231.6 249.2,231.6 249.4,231.6 249.6,231.6 249.8,231.6 250.0,231.6 250.2,231.6 250.4,231.6 250.6,231.6 250.8,231.6 251.0,231.6 251.2,231.6 251.4,231.6 251.6,231.6 251.8,231.6 252.0,231.6 252.2,231.6 252.4,231.6 252.6,231.6 252.8,231.6 253.0,231.6 253.2,231.6 253.4,231.6 253.6,231.6 253.8,231.6 254.0,231.6 254.2,231.6 254.4,231.6 254.6,231.6 254.7,231.6 254.9,231.6 255.1,231.6 255.3,231.6 255.5,231.6 255.7,231.6 255.9,231.6 256.1,231.6 256.3,231.6 256.5,231.6 256.7,231.6 256.9,231.6 257.1,231.6 257.3,231.6 257.5,231.6 257.7,231.6 257.9,231.6 258.1,231.6 258.3,231.6 258.5,231.6 258.7,231.6 258.9,231.6 259.1,231.6 259.3,231.6 259.5,231.6 259.7,231.6 259.9,231.6 260.1,231.6 260.3,231.6 260.4,231.6 260.6,231.6 260.8,231.6 261.0,231.6 261.2,231.6 261.4,231.6 261.6,231.6 261.8,231.6 262.0,231.6 262.2,231.6 262.4,231.6 262.6,231.6 262.8,231.6 263.0,231.6 263.2,231.6 263.4,231.6 263.6,231.6 263.8,231.6 264.0,231.6 264.2,231.6 264.4,231.6 264.6,231.6 264.8,231.6 265.0,231.6 265.2,231.6 265.4,231.6 265.6,231.6 265.8,231.6 266.0,231.6 266.2,231.6 266.3,231.6 266.5,231.6 266.7,231.6 266.9,231.6 267.1,231.6 267.3,231.6 267.5,231.6 267.7,231.6 267.9,231.6 268.1,231.6 268.3,231.6 268.5,231.6 268.7,231.6 268.9,231.6 269.1,231.6 269.3,231.6 269.5,231.6 269.7,231.6 269.9,231.6 270.1,231.6 270.3,231.6 270.5,231.6 270.7,231.6 270.9,231.6 271.1,231.6 271.3,231.6 271.5,231.6 271.7,231.6 271.9,231.6 272.0,231.6 272.2,231.6 272.4,231.6 272.6,231.6 272.8,231.6 273.0,231.6 273.2,231.6 273.4,231.6 273.6,231.6 273.8,231.6 274.0,231.6 274.2,231.6 274.4,231.6 274.6,231.6 274.8,231.6 275.0,231.6 275.2,231.6 275.4,231.6 275.6,231.6 275.8,231.6 276.0,231.6 276.2,231.6 276.4,231.6 276.6,231.6 276.8,231.6 277.0,231.6 277.2,231.6 277.4,231.6 277.6,231.6 277.7,231.6 277.9,231.6 278.1,231.6 278.3,231.6 278.5,231.6 278.7,231.6 278.9,231.6 279.1,231.6 279.3,231.6 279.5,231.6 279.7,231.6 279.9,231.6 280.1,231.6 280.3,231.6 280.5,231.6 280.7,231.6 280.9,231.6 281.1,231.6 281.3,231.6 281.5,231.6 281.7,231.6 281.9,231.6 282.1,231.6 282.3,231.6 282.5,231.6 282.7,231.6 282.9,231.6 283.1,231.6 283.3,231.6 283.4,231.6 283.6,231.6 283.8,231.6 284.0,231.6 284.2,231.6 284.4,231.6 284.6,231.6 284.8,231.6 285.0,231.6 285.2,231.6 285.4,231.6 285.6,231.6 285.8,231.6 286.0,231.6 286.2,231.6 286.4,231.6 286.6,231.6 286.8,231.6 287.0,231.6 287.2,231.6 287.4,231.6 287.6,231.6 287.8,231.6 288.0,231.6 288.2,231.6 288.4,231.6 288.6,231.6 288.8,231.6 289.0,231.6 289.2,231.6 289.3,231.6 289.5,231.6 289.7,231.6 289.9,231.6 290.1,231.6 290.3,231.6 290.5,231.6 290.7,231.6 290.9,231.6 291.1,231.6 291.3,231.6 291.5,231.6 291.7,231.6 291.9,231.6 292.1,231.6 292.3,231.6 292.5,231.6 292.7,231.6 292.9,231.6 293.1,231.6 293.3,231.6 293.5,231.6 293.7,231.6 293.9,231.6 294.1,231.6 294.3,231.6 294.5,231.6 294.7,231.6 294.9,231.6 295.0,231.6 295.2,231.6 295.4,231.6 295.6,231.6 295.8,231.6 296.0,231.6 296.2,231.6 296.4,231.6 296.6,231.6 296.8,231.6 297.0,231.6 297.2,231.6 297.4,231.6 297.6,231.6 297.8,231.6 298.0,231.6 298.2,231.6 298.4,220.5 298.6,231.6 298.8,231.6 299.0,231.6 299.2,231.6 299.4,231.6 299.6,231.6 299.8,222.4 300.0,231.6 300.2,231.6 300.4,231.6 300.6,231.6 300.7,231.6 300.9,231.6 301.1,231.6 301.3,231.6 301.5,231.6 301.7,231.6 301.9,231.6 302.1,231.6 302.3,231.6 302.5,231.6 302.7,231.6 302.9,231.6 303.1,231.6 303.3,194.0 303.5,231.6 303.7,231.6 303.9,231.6 304.1,231.6 304.3,231.6 304.5,231.6 304.7,231.6 304.9,231.6 305.1,231.6 305.3,231.6 305.5,231.6 305.7,231.6 305.9,231.6 306.1,231.6 306.3,231.6 306.4,231.6 306.6,231.6 306.8,231.6 307.0,231.6 307.2,231.6 307.4,231.6 307.6,231.6 307.8,231.6 308.0,231.6 308.2,231.6 308.4,231.6 308.6,231.6 308.8,231.6 309.0,231.6 309.2,231.6 309.4,231.6 309.6,231.6 309.8,231.6 310.0,231.6 310.2,231.6 310.4,231.6 310.6,231.6 310.8,231.6 311.0,231.6 311.2,231.6 311.4,231.6 311.6,231.6 311.8,231.6 312.0,231.6 312.2,231.6 312.3,231.6 312.5,231.6" fill="none" stroke="#ff7f0e" stroke-width="1.35" stroke-linejoin="round" />
<line x1="54.43" y1="241.40" x2="54.43" y2="244.50" stroke="#000" stroke-width="0.8"/>
<text x="52.10" y="253.30" font-size="8.20" fill="#1a1a1a" textLength="4.67" lengthAdjust="spacingAndGlyphs" stroke="#1a1a1a" stroke-width="0.25">0</text>
<line x1="93.75" y1="241.40" x2="93.75" y2="244.50" stroke="#000" stroke-width="0.8"/>
<text x="86.72" y="253.30" font-size="8.20" fill="#1a1a1a" textLength="14.01" lengthAdjust="spacingAndGlyphs" stroke="#1a1a1a" stroke-width="0.25">200</text>
<line x1="133.06" y1="241.40" x2="133.06" y2="244.50" stroke="#000" stroke-width="0.8"/>
<text x="126.15" y="253.30" font-size="8.20" fill="#1a1a1a" textLength="13.98" lengthAdjust="spacingAndGlyphs" stroke="#1a1a1a" stroke-width="0.25">400</text>
<line x1="172.38" y1="241.40" x2="172.38" y2="244.50" stroke="#000" stroke-width="0.8"/>
<text x="165.33" y="253.30" font-size="8.20" fill="#1a1a1a" textLength="14.04" lengthAdjust="spacingAndGlyphs" stroke="#1a1a1a" stroke-width="0.25">600</text>
<line x1="211.70" y1="241.40" x2="211.70" y2="244.50" stroke="#000" stroke-width="0.8"/>
<text x="204.69" y="253.30" font-size="8.20" fill="#1a1a1a" textLength="14.00" lengthAdjust="spacingAndGlyphs" stroke="#1a1a1a" stroke-width="0.25">800</text>
<line x1="251.01" y1="241.40" x2="251.01" y2="244.50" stroke="#000" stroke-width="0.8"/>
<text x="241.59" y="253.30" font-size="8.20" fill="#1a1a1a" textLength="18.56" lengthAdjust="spacingAndGlyphs" stroke="#1a1a1a" stroke-width="0.25">1000</text>
<line x1="290.33" y1="241.40" x2="290.33" y2="244.50" stroke="#000" stroke-width="0.8"/>
<text x="280.90" y="253.30" font-size="8.20" fill="#1a1a1a" textLength="18.56" lengthAdjust="spacingAndGlyphs" stroke="#1a1a1a" stroke-width="0.25">1200</text>
<line x1="38.40" y1="231.74" x2="41.50" y2="231.74" stroke="#000" stroke-width="0.8"/>
<text x="30.98" y="234.74" font-size="8.20" fill="#1a1a1a" textLength="4.67" lengthAdjust="spacingAndGlyphs" stroke="#1a1a1a" stroke-width="0.25">0</text>
<line x1="38.40" y1="194.36" x2="41.50" y2="194.36" stroke="#000" stroke-width="0.8"/>
<text x="31.24" y="197.36" font-size="8.20" fill="#1a1a1a" textLength="4.47" lengthAdjust="spacingAndGlyphs" stroke="#1a1a1a" stroke-width="0.25">2</text>
<line x1="38.40" y1="156.99" x2="41.50" y2="156.99" stroke="#000" stroke-width="0.8"/>
<text x="30.92" y="159.99" font-size="8.20" fill="#1a1a1a" textLength="4.64" lengthAdjust="spacingAndGlyphs" stroke="#1a1a1a" stroke-width="0.25">4</text>
<line x1="38.40" y1="119.61" x2="41.50" y2="119.61" stroke="#000" stroke-width="0.8"/>
<text x="30.88" y="122.61" font-size="8.20" fill="#1a1a1a" textLength="4.82" lengthAdjust="spacingAndGlyphs" stroke="#1a1a1a" stroke-width="0.25">6</text>
<line x1="38.40" y1="82.24" x2="41.50" y2="82.24" stroke="#000" stroke-width="0.8"/>
<text x="30.97" y="85.24" font-size="8.20" fill="#1a1a1a" textLength="4.67" lengthAdjust="spacingAndGlyphs" stroke="#1a1a1a" stroke-width="0.25">8</text>
<line x1="38.40" y1="44.86" x2="41.50" y2="44.86" stroke="#000" stroke-width="0.8"/>
<text x="26.38" y="47.86" font-size="8.20" fill="#1a1a1a" textLength="9.27" lengthAdjust="spacingAndGlyphs" stroke="#1a1a1a" stroke-width="0.25">10</text>
<text x="124.49" y="24.30" font-size="10.20" fill="#1a1a1a" textLength="117.67" lengthAdjust="spacingAndGlyphs" stroke="#1a1a1a" stroke-width="0.25">Train and Validation Loss</text>
<text x="171.27" y="263.70" font-size="8.20" fill="#1a1a1a" textLength="24.14" lengthAdjust="spacingAndGlyphs" stroke="#1a1a1a" stroke-width="0.25">Epoch</text>
<text transform="translate(20.80,136.90) rotate(-90)" x="-8.75" y="0" font-size="8.20" fill="#1a1a1a" textLength="17.15" lengthAdjust="spacingAndGlyphs" stroke="#1a1a1a" stroke-width="0.25">Loss</text>
<rect x="234.20" y="34.20" width="87.40" height="26.10" rx="1.6" fill="#fff" fill-opacity="0.8" stroke="#d6d6d6" stroke-width="0.8"/>
<line x1="236.20" y1="39.90" x2="253.40" y2="39.90" stroke="#1f77b4" stroke-width="1.2"/>
<text x="259.33" y="42.80" font-size="8.20" fill="#1a1a1a" textLength="38.77" lengthAdjust="spacingAndGlyphs" stroke="#1a1a1a" stroke-width="0.25">Train Loss</text>
<line x1="236.20" y1="52.10" x2="253.40" y2="52.10" stroke="#ff7f0e" stroke-width="1.2"/>
<text x="259.46" y="55.00" font-size="8.20" fill="#1a1a1a" textLength="58.84" lengthAdjust="spacingAndGlyphs" stroke="#1a1a1a" stroke-width="0.25">Validation Loss</text>
<rect x="407.05" y="36.45" width="275.45" height="204.85" fill="none" stroke="#000" stroke-width="0.8"/>
<polyline points="419.4,159.7 419.6,182.2 419.8,187.2 420.0,185.5 420.2,193.8 420.4,188.8 420.6,195.4 420.8,187.2 421.0,193.8 421.1,188.8 421.3,195.4 421.5,188.8 421.7,193.8 421.9,190.5 422.1,195.4 422.3,188.8 422.5,193.8 422.7,192.1 422.9,195.4 423.1,190.5 423.2,195.4 423.4,192.1 423.6,198.7 423.8,205.3 424.0,228.4 424.2,231.8 424.4,231.8 424.6,221.8 424.8,202.0 425.0,195.4 425.2,198.7 425.3,192.1 425.5,202.0 425.7,195.4 425.9,198.7 426.1,188.8 426.3,195.4 426.5,185.5 426.7,192.1 426.9,188.8 427.1,195.4 427.2,185.5 427.4,188.8 427.6,175.6 427.8,162.4 428.0,152.5 428.2,162.4 428.4,152.5 428.6,159.1 428.8,152.5 429.0,169.0 429.2,155.8 429.3,178.9 429.5,169.0 429.7,185.5 429.9,188.8 430.1,175.6 430.3,162.4 430.5,178.9 430.7,155.8 430.9,100.6 431.1,175.6 431.3,165.7 431.4,155.8 431.6,167.3 431.8,178.9 432.0,164.0 432.2,149.2 432.4,160.7 432.6,172.3 432.8,157.4 433.0,142.6 433.2,155.8 433.4,169.0 433.5,162.4 433.7,155.8 433.9,167.3 434.1,178.9 434.3,167.3 434.5,155.8 434.7,159.1 434.9,162.4 435.1,105.6 435.3,48.8 435.4,122.8 435.6,126.1 435.8,129.4 436.0,116.1 436.2,102.9 436.4,112.8 436.6,122.8 436.8,109.5 437.0,96.3 437.2,83.8 437.4,122.8 437.5,116.1 437.7,109.5 437.9,119.5 438.1,129.4 438.3,116.1 438.5,102.9 438.7,112.8 438.9,122.8 439.1,116.1 439.3,109.5 439.5,119.5 439.6,129.4 439.8,109.9 440.0,90.4 440.2,122.8 440.4,114.5 440.6,106.2 440.8,116.1 441.0,126.1 441.2,109.5 441.4,93.0 441.6,119.5 441.7,126.1 441.9,132.7 442.1,140.9 442.3,149.2 442.5,140.9 442.7,132.7 442.9,144.2 443.1,155.8 443.3,142.6 443.5,129.4 443.6,137.6 443.8,145.9 444.0,139.3 444.2,132.7 444.4,140.9 444.6,149.2 444.8,140.9 445.0,132.7 445.2,139.3 445.4,145.9 445.6,137.6 445.7,129.4 445.9,136.0 446.1,142.6 446.3,137.6 446.5,132.7 446.7,140.9 446.9,149.2 447.1,142.6 447.3,136.0 447.5,124.4 447.7,112.8 447.8,67.3 448.0,70.2 448.2,73.2 448.4,72.1 448.6,70.9 448.8,75.4 449.0,79.8 449.2,78.2 449.4,76.5 449.6,81.5 449.8,86.4 449.9,88.1 450.1,89.7 450.3,86.4 450.5,83.1 450.7,79.8 450.9,76.5 451.1,73.7 451.3,70.9 451.5,118.8 451.7,166.7 451.9,96.3 452.0,83.6 452.2,70.9 452.4,73.7 452.6,76.5 452.8,73.2 453.0,69.9 453.2,57.4 453.4,44.8 453.6,79.8 453.8,83.1 453.9,86.4 454.1,91.4 454.3,96.3 454.5,104.6 454.7,112.8 454.9,149.2 455.1,185.5 455.3,167.3 455.5,149.2 455.7,147.5 455.9,145.9 456.0,149.2 456.2,152.5 456.4,147.5 456.6,142.6 456.8,145.9 457.0,149.2 457.2,147.5 457.4,145.9 457.6,149.2 457.8,152.5 458.0,147.5 458.1,142.6 458.3,145.9 458.5,149.2 458.7,147.5 458.9,145.9 459.1,106.1 459.3,66.3 459.5,68.1 459.7,69.9 459.9,68.3 460.1,66.6 460.2,69.9 460.4,73.2 460.6,74.3 460.8,75.4 461.0,76.5 461.2,77.6 461.4,78.7 461.6,79.8 461.8,79.3 462.0,78.7 462.1,78.2 462.3,80.9 462.5,83.7 462.7,86.4 462.9,87.5 463.1,88.6 463.3,89.7 463.5,91.9 463.7,94.1 463.9,96.3 464.1,100.7 464.2,105.1 464.4,109.5 464.6,111.7 464.8,113.9 465.0,116.1 465.2,120.6 465.4,125.0 465.6,129.4 465.8,144.2 466.0,159.1 466.2,149.2 466.3,139.3 466.5,140.9 466.7,142.6 466.9,139.3 467.1,136.0 467.3,130.1 467.5,129.3 467.7,133.6 467.9,140.5 468.1,135.6 468.3,142.9 468.4,139.0 468.6,129.3 468.8,136.6 469.0,139.6 469.2,140.4 469.4,130.9 469.6,133.9 469.8,133.8 470.0,129.1 470.2,142.3 470.3,132.3 470.5,130.5 470.7,129.0 470.9,128.9 471.1,133.5 471.3,136.5 471.5,130.1 471.7,128.9 471.9,130.5 472.1,135.8 472.3,133.3 472.4,131.9 472.6,142.2 472.8,140.6 473.0,139.9 473.2,133.4 473.4,136.5 473.6,138.3 473.8,136.5 474.0,134.4 474.2,133.0 474.4,141.6 474.5,143.8 474.7,141.3 474.9,142.9 475.1,144.6 475.3,130.4 475.5,131.2 475.7,141.8 475.9,143.2 476.1,144.1 476.3,142.1 476.5,140.8 476.6,137.6 476.8,151.8 477.0,134.5 477.2,137.5 477.4,137.1 477.6,132.4 477.8,132.1 478.0,132.9 478.2,140.6 478.4,140.9 478.5,140.4 478.7,137.9 478.9,141.9 479.1,140.0 479.3,139.6 479.5,142.6 479.7,141.7 479.9,135.9 480.1,128.9 480.3,140.3 480.5,140.0 480.6,133.9 480.8,134.4 481.0,137.4 481.2,135.9 481.4,137.9 481.6,137.8 481.8,136.8 482.0,140.4 482.2,128.2 482.4,136.8 482.6,137.3 482.7,139.9 482.9,139.7 483.1,128.8 483.3,139.0 483.5,137.8 483.7,135.5 483.9,135.8 484.1,136.9 484.3,140.2 484.5,141.0 484.7,139.3 484.8,140.4 485.0,137.1 485.2,139.6 485.4,137.3 485.6,133.0 485.8,132.0 486.0,130.8 486.2,131.1 486.4,120.8 486.6,135.6 486.8,130.3 486.9,132.0 487.1,132.4 487.3,132.2 487.5,147.9 487.7,130.5 487.9,140.8 488.1,138.2 488.3,127.1 488.5,128.8 488.7,132.2 488.8,135.9 489.0,141.2 489.2,127.6 489.4,141.4 489.6,138.8 489.8,135.5 490.0,136.4 490.2,130.2 490.4,140.5 490.6,142.4 490.8,142.3 490.9,135.0 491.1,131.3 491.3,131.3 491.5,129.7 491.7,132.1 491.9,131.2 492.1,136.1 492.3,126.8 492.5,142.4 492.7,131.1 492.9,132.1 493.0,142.3 493.2,130.7 493.4,127.9 493.6,140.9 493.8,139.3 494.0,137.3 494.2,140.2 494.4,139.7 494.6,123.4 494.8,136.8 495.0,128.8 495.1,130.1 495.3,131.6 495.5,134.3 495.7,132.6 495.9,129.5 496.1,131.3 496.3,133.4 496.5,136.0 496.7,135.6 496.9,135.3 497.0,135.9 497.2,134.9 497.4,134.2 497.6,132.1 497.8,137.1 498.0,129.1 498.2,135.6 498.4,140.4 498.6,135.6 498.8,128.1 499.0,129.8 499.1,131.2 499.3,129.2 499.5,130.3 499.7,140.5 499.9,139.1 500.1,137.0 500.3,126.8 500.5,131.3 500.7,133.0 500.9,138.6 501.1,136.6 501.2,137.8 501.4,131.3 501.6,107.3 501.8,83.3 502.0,59.3 502.2,134.0 502.4,130.3 502.6,133.5 502.8,140.3 503.0,136.8 503.2,140.5 503.3,154.4 503.5,155.8 503.7,158.2 503.9,153.2 504.1,148.0 504.3,150.0 504.5,153.7 504.7,138.8 504.9,151.9 505.1,157.8 505.2,156.4 505.4,151.8 505.6,155.4 505.8,158.2 506.0,161.3 506.2,159.0 506.4,156.2 506.6,152.5 506.8,154.3 507.0,162.7 507.2,170.6 507.3,154.7 507.5,156.2 507.7,152.7 507.9,151.1 508.1,152.9 508.3,140.9 508.5,155.6 508.7,160.1 508.9,155.6 509.1,150.3 509.3,147.4 509.4,149.2 509.6,147.7 509.8,166.8 510.0,162.8 510.2,163.2 510.4,163.4 510.6,159.3 510.8,148.8 511.0,152.7 511.2,166.9 511.4,170.6 511.5,170.8 511.7,161.4 511.9,179.6 512.1,153.3 512.3,157.5 512.5,151.3 512.7,153.5 512.9,161.4 513.1,162.4 513.3,146.3 513.4,144.2 513.6,142.7 513.8,148.6 514.0,161.8 514.2,161.2 514.4,149.7 514.6,147.9 514.8,145.8 515.0,146.3 515.2,148.7 515.4,160.3 515.5,156.7 515.7,143.4 515.9,145.7 516.1,146.5 516.3,157.0 516.5,151.4 516.7,154.4 516.9,153.7 517.1,160.1 517.3,157.2 517.5,156.9 517.6,154.9 517.8,152.9 518.0,149.2 518.2,153.9 518.4,155.9 518.6,156.0 518.8,158.8 519.0,161.3 519.2,151.0 519.4,158.2 519.6,150.1 519.7,152.3 519.9,155.9 520.1,157.3 520.3,155.7 520.5,156.0 520.7,154.6 520.9,162.1 521.1,161.3 521.3,160.6 521.5,145.6 521.6,153.3 521.8,154.8 522.0,144.8 522.2,158.7 522.4,146.5 522.6,149.6 522.8,152.8 523.0,152.0 523.2,155.3 523.4,155.5 523.6,157.5 523.7,152.8 523.9,160.8 524.1,159.3 524.3,155.2 524.5,160.6 524.7,153.1 524.9,152.1 525.1,155.5 525.3,158.0 525.5,156.7 525.7,151.6 525.8,151.2 526.0,160.9 526.2,162.2 526.4,150.9 526.6,152.0 526.8,146.3 527.0,160.5 527.2,156.1 527.4,151.4 527.6,146.9 527.8,148.1 527.9,146.9 528.1,145.2 528.3,145.3 528.5,152.0 528.7,155.2 528.9,154.6 529.1,146.0 529.3,145.4 529.5,145.5 529.7,147.3 529.9,146.7 530.0,148.8 530.2,162.3 530.4,161.3 530.6,161.5 530.8,153.6 531.0,154.1 531.2,151.0 531.4,152.9 531.6,155.1 531.8,146.7 531.9,142.9 532.1,157.5 532.3,172.0 532.5,186.6 532.7,187.7 532.9,185.6 533.1,186.0 533.3,188.3 533.5,187.0 533.7,186.4 533.9,184.1 534.0,184.6 534.2,184.8 534.4,186.5 534.6,186.0 534.8,187.6 535.0,187.1 535.2,186.5 535.4,187.1 535.6,185.3 535.8,186.8 536.0,185.4 536.1,185.1 536.3,171.3 536.5,175.3 536.7,174.7 536.9,172.5 537.1,174.0 537.3,170.9 537.5,169.9 537.7,174.9 537.9,171.1 538.1,172.3 538.2,172.4 538.4,177.8 538.6,175.3 538.8,177.6 539.0,177.2 539.2,179.9 539.4,181.8 539.6,183.6 539.8,183.9 540.0,179.1 540.1,174.2 540.3,177.5 540.5,181.7 540.7,180.3 540.9,178.2 541.1,178.2 541.3,176.8 541.5,177.9 541.7,175.8 541.9,181.6 542.1,181.5 542.2,178.0 542.4,182.3 542.6,183.5 542.8,181.9 543.0,174.7 543.2,177.8 543.4,177.0 543.6,182.1 543.8,187.2 544.0,175.8 544.2,164.5 544.3,153.1 544.5,161.9 544.7,162.4 544.9,160.7 545.1,165.5 545.3,163.4 545.5,167.0 545.7,158.8 545.9,160.5 546.1,159.0 546.3,162.9 546.4,161.1 546.6,166.6 546.8,167.5 547.0,177.9 547.2,188.2 547.4,188.1 547.6,187.8 547.8,186.5 548.0,186.3 548.2,189.0 548.3,189.8 548.5,185.4 548.7,184.5 548.9,184.2 549.1,187.7 549.3,187.5 549.5,187.1 549.7,185.3 549.9,184.6 550.1,183.4 550.3,184.5 550.4,185.6 550.6,189.0 550.8,188.0 551.0,187.8 551.2,183.5 551.4,189.2 551.6,185.6 551.8,186.8 552.0,188.4 552.2,186.7 552.4,185.3 552.5,186.2 552.7,182.2 552.9,189.5 553.1,186.7 553.3,187.4 553.5,185.3 553.7,189.1 553.9,188.5 554.1,184.4 554.3,184.3 554.5,187.7 554.6,188.6 554.8,188.4 555.0,188.2 555.2,189.5 555.4,180.7 555.6,182.0 555.8,182.2 556.0,189.7 556.2,183.0 556.4,181.8 556.5,183.1 556.7,184.0 556.9,187.4 557.1,187.7 557.3,184.7 557.5,181.7 557.7,188.0 557.9,186.6 558.1,184.1 558.3,173.3 558.5,162.6 558.6,151.8 558.8,157.3 559.0,162.7 559.2,168.2 559.4,160.3 559.6,159.4 559.8,165.7 560.0,167.1 560.2,161.7 560.4,159.6 560.6,159.8 560.7,165.6 560.9,164.0 561.1,170.2 561.3,162.7 561.5,169.2 561.7,171.4 561.9,160.7 562.1,168.2 562.3,162.8 562.5,160.7 562.7,164.8 562.8,165.9 563.0,165.3 563.2,166.9 563.4,171.3 563.6,172.0 563.8,160.0 564.0,162.2 564.2,167.4 564.4,166.4 564.6,167.3 564.7,167.9 564.9,166.9 565.1,168.2 565.3,169.8 565.5,166.7 565.7,159.8 565.9,159.4 566.1,163.8 566.3,166.0 566.5,160.6 566.7,163.1 566.8,169.4 567.0,161.3 567.2,163.7 567.4,163.3 567.6,160.3 567.8,170.6 568.0,163.5 568.2,161.6 568.4,160.6 568.6,161.7 568.8,163.2 568.9,163.6 569.1,169.8 569.3,154.3 569.5,138.9 569.7,123.4 569.9,142.1 570.1,160.7 570.3,153.2 570.5,157.1 570.7,159.0 570.9,160.7 571.0,160.7 571.2,159.1 571.4,153.5 571.6,157.0 571.8,148.4 572.0,150.5 572.2,154.6 572.4,152.2 572.6,152.7 572.8,155.3 573.0,159.5 573.1,158.8 573.3,159.0 573.5,152.9 573.7,153.6 573.9,152.3 574.1,153.3 574.3,159.0 574.5,160.7 574.7,160.7 574.9,157.0 575.0,148.7 575.2,158.1 575.4,160.1 575.6,153.5 575.8,152.7 576.0,151.0 576.2,158.5 576.4,148.9 576.6,141.4 576.8,134.0 577.0,140.4 577.1,146.7 577.3,140.4 577.5,143.7 577.7,136.0 577.9,142.7 578.1,145.5 578.3,146.4 578.5,137.3 578.7,139.6 578.9,137.7 579.1,132.3 579.2,131.7 579.4,141.2 579.6,142.6 579.8,138.8 580.0,132.8 580.2,140.4 580.4,139.7 580.6,140.5 580.8,137.4 581.0,135.5 581.2,136.7 581.3,133.0 581.5,126.9 581.7,120.8 581.9,136.0 582.1,151.2 582.3,166.4 582.5,165.3 582.7,167.2 582.9,174.0 583.1,168.5 583.2,167.4 583.4,164.4 583.6,165.9 583.8,165.0 584.0,164.6 584.2,171.4 584.4,170.1 584.6,166.2 584.8,173.0 585.0,171.5 585.2,170.3 585.3,172.5 585.5,172.8 585.7,168.2 585.9,170.5 586.1,169.0 586.3,169.1 586.5,168.6 586.7,163.5 586.9,174.2 587.1,168.5 587.3,168.5 587.4,173.5 587.6,174.6 587.8,174.4 588.0,174.6 588.2,165.6 588.4,167.6 588.6,170.0 588.8,167.7 589.0,167.3 589.2,163.6 589.4,174.0 589.5,172.2 589.7,170.9 589.9,169.0 590.1,166.5 590.3,166.3 590.5,164.9 590.7,170.7 590.9,166.8 591.1,169.1 591.3,164.8 591.4,166.1 591.6,169.9 591.8,167.5 592.0,171.4 592.2,173.6 592.4,172.7 592.6,172.1 592.8,167.9 593.0,163.6 593.2,159.4 593.4,155.2 593.5,153.4 593.7,153.0 593.9,153.8 594.1,153.8 594.3,152.1 594.5,154.0 594.7,152.4 594.9,152.1 595.1,150.8 595.3,147.6 595.5,144.4 595.6,141.2 595.8,136.7 596.0,146.7 596.2,141.3 596.4,144.0 596.6,144.0 596.8,140.1 597.0,138.2 597.2,147.7 597.4,145.9 597.6,133.7 597.7,135.2 597.9,138.2 598.1,139.5 598.3,144.0 598.5,145.8 598.7,136.5 598.9,136.9 599.1,134.9 599.3,135.5 599.5,136.8 599.6,133.6 599.8,138.1 600.0,138.4 600.2,145.8 600.4,136.0 600.6,137.6 600.8,134.6 601.0,144.4 601.2,143.3 601.4,135.3 601.6,136.8 601.7,134.3 601.9,136.7 602.1,145.2 602.3,159.8 602.5,174.5 602.7,189.1 602.9,174.5 603.1,159.9 603.3,145.2 603.5,143.2 603.7,148.3 603.8,147.1 604.0,148.0 604.2,143.6 604.4,141.9 604.6,145.3 604.8,145.6 605.0,143.9 605.2,142.3 605.4,143.3 605.6,141.8 605.8,140.5 605.9,141.1 606.1,143.1 606.3,138.1 606.5,144.2 606.7,139.9 606.9,139.4 607.1,146.5 607.3,149.0 607.5,140.8 607.7,143.6 607.8,143.3 608.0,142.9 608.2,140.4 608.4,145.4 608.6,141.9 608.8,142.4 609.0,141.1 609.2,140.3 609.4,146.0 609.6,151.6 609.8,157.3 609.9,160.1 610.1,160.9 610.3,155.7 610.5,148.8 610.7,148.3 610.9,156.6 611.1,159.3 611.3,161.5 611.5,149.8 611.7,153.5 611.9,162.6 612.0,160.3 612.2,158.8 612.4,160.1 612.6,163.0 612.8,152.1 613.0,148.8 613.2,148.6 613.4,151.1 613.6,162.4 613.8,160.6 614.0,160.8 614.1,150.9 614.3,151.4 614.5,149.1 614.7,152.3 614.9,152.7 615.1,150.6 615.3,149.3 615.5,150.1 615.7,147.2 615.9,150.4 616.1,155.7 616.2,156.6 616.4,157.2 616.6,160.4 616.8,163.1 617.0,159.4 617.2,161.2 617.4,162.3 617.6,149.8 617.8,148.3 618.0,158.8 618.1,157.5 618.3,155.4 618.5,156.0 618.7,153.7 618.9,153.9 619.1,152.7 619.3,151.8 619.5,149.7 619.7,146.2 619.9,146.3 620.1,146.8 620.2,146.0 620.4,157.9 620.6,160.9 620.8,162.6 621.0,163.1 621.2,160.1 621.4,156.8 621.6,157.0 621.8,159.6 622.0,161.9 622.2,159.3 622.3,162.6 622.5,162.6 622.7,159.9 622.9,152.8 623.1,158.8 623.3,150.9 623.5,159.8 623.7,156.8 623.9,157.7 624.1,157.6 624.3,153.4 624.4,151.6 624.6,151.0 624.8,156.9 625.0,158.5 625.2,159.1 625.4,156.0 625.6,160.9 625.8,148.9 626.0,148.9 626.2,151.9 626.3,149.4 626.5,148.4 626.7,159.9 626.9,146.7 627.1,158.4 627.3,148.1 627.5,152.1 627.7,155.5 627.9,155.2 628.1,162.7 628.3,153.5 628.4,146.1 628.6,150.0 628.8,153.9 629.0,151.7 629.2,160.4 629.4,157.7 629.6,154.6 629.8,156.3 630.0,152.6 630.2,153.2 630.4,156.4 630.5,150.6 630.7,157.0 630.9,160.1 631.1,156.0 631.3,154.1 631.5,149.6 631.7,151.0 631.9,151.4 632.1,149.3 632.3,149.0 632.5,150.6 632.6,145.6 632.8,150.6 633.0,152.9 633.2,148.5 633.4,157.7 633.6,156.9 633.8,145.6 634.0,145.5 634.2,152.9 634.4,155.6 634.5,146.1 634.7,147.5 634.9,147.3 635.1,150.3 635.3,146.4 635.5,146.0 635.7,146.3 635.9,153.3 636.1,154.9 636.3,154.7 636.5,153.0 636.6,159.6 636.8,155.2 637.0,152.3 637.2,159.5 637.4,158.9 637.6,160.2 637.8,147.9 638.0,147.0 638.2,146.6 638.4,150.0 638.6,150.9 638.7,147.2 638.9,147.6 639.1,150.8 639.3,159.2 639.5,152.9 639.7,154.4 639.9,148.3 640.1,159.7 640.3,157.6 640.5,147.6 640.7,149.8 640.8,153.7 641.0,151.6 641.2,159.7 641.4,155.2 641.6,159.8 641.8,151.2 642.0,150.8 642.2,154.3 642.4,150.3 642.6,154.8 642.7,162.1 642.9,156.1 643.1,156.7 643.3,157.4 643.5,155.7 643.7,146.5 643.9,146.3 644.1,149.7 644.3,146.3 644.5,156.5 644.7,145.9 644.8,161.0 645.0,159.1 645.2,147.8 645.4,157.4 645.6,159.5 645.8,146.4 646.0,159.8 646.2,149.9 646.4,158.6 646.6,148.8 646.8,150.0 646.9,156.6 647.1,145.8 647.3,148.5 647.5,149.5 647.7,159.3 647.9,159.7 648.1,156.6 648.3,157.5 648.5,151.7 648.7,162.6 648.9,161.7 649.0,151.3 649.2,149.7 649.4,149.3 649.6,161.6 649.8,162.2 650.0,161.4 650.2,162.1 650.4,158.9 650.6,145.6 650.8,159.8 650.9,156.1 651.1,152.7 651.3,150.6 651.5,161.2 651.7,157.8 651.9,154.5 652.1,157.6 652.3,154.5 652.5,156.0 652.7,156.2 652.9,153.8 653.0,154.3 653.2,155.1 653.4,151.8 653.6,148.3 653.8,146.4 654.0,160.4 654.2,148.5 654.4,146.0 654.6,145.5 654.8,140.9 655.0,136.3 655.1,131.7 655.3,127.0 655.5,135.3 655.7,143.5 655.9,151.7 656.1,159.9 656.3,168.1 656.5,176.3 656.7,184.5 656.9,175.2 657.1,165.9 657.2,156.6 657.4,147.3 657.6,138.0 657.8,128.7 658.0,119.5 658.2,125.6 658.4,131.7 658.6,135.1 658.8,141.9 659.0,139.3 659.2,145.4 659.3,136.5 659.5,140.8 659.7,137.3 659.9,145.0 660.1,154.7 660.3,153.4 660.5,153.5 660.7,152.1 660.9,157.0 661.1,160.8 661.2,169.8 661.4,178.8 661.6,187.7 661.8,188.2 662.0,186.7 662.2,186.4 662.4,186.3 662.6,186.2 662.8,186.9 663.0,187.8 663.2,187.0 663.3,186.9 663.5,186.1 663.7,186.3 663.9,186.9 664.1,188.1 664.3,186.4 664.5,187.0 664.7,186.6 664.9,188.7 665.1,188.8 665.3,188.6 665.4,186.4 665.6,188.4 665.8,188.1 666.0,188.1 666.2,186.3 666.4,188.2 666.6,188.7 666.8,188.5 667.0,187.8 667.2,187.1 667.4,188.2 667.5,187.8 667.7,188.0 667.9,188.2 668.1,186.2 668.3,186.8 668.5,186.5 668.7,186.1 668.9,186.2 669.1,185.8 669.3,186.0 669.4,186.2 669.6,188.7 669.8,188.3" fill="none" stroke="#1f77b4" stroke-width="1.35" stroke-linejoin="round" />
<line x1="419.43" y1="241.30" x2="419.43" y2="244.40" stroke="#000" stroke-width="0.8"/>
<text x="417.10" y="253.20" font-size="8.20" fill="#1a1a1a" textLength="4.67" lengthAdjust="spacingAndGlyphs" stroke="#1a1a1a" stroke-width="0.25">0</text>
<line x1="457.57" y1="241.30" x2="457.57" y2="244.40" stroke="#000" stroke-width="0.8"/>
<text x="450.54" y="253.20" font-size="8.20" fill="#1a1a1a" textLength="14.01" lengthAdjust="spacingAndGlyphs" stroke="#1a1a1a" stroke-width="0.25">200</text>
<line x1="495.71" y1="241.30" x2="495.71" y2="244.40" stroke="#000" stroke-width="0.8"/>
<text x="488.80" y="253.20" font-size="8.20" fill="#1a1a1a" textLength="13.98" lengthAdjust="spacingAndGlyphs" stroke="#1a1a1a" stroke-width="0.25">400</text>
<line x1="533.86" y1="241.30" x2="533.86" y2="244.40" stroke="#000" stroke-width="0.8"/>
<text x="526.81" y="253.20" font-size="8.20" fill="#1a1a1a" textLength="14.04" lengthAdjust="spacingAndGlyphs" stroke="#1a1a1a" stroke-width="0.25">600</text>
<line x1="572.00" y1="241.30" x2="572.00" y2="244.40" stroke="#000" stroke-width="0.8"/>
<text x="564.99" y="253.20" font-size="8.20" fill="#1a1a1a" textLength="14.00" lengthAdjust="spacingAndGlyphs" stroke="#1a1a1a" stroke-width="0.25">800</text>
<line x1="610.14" y1="241.30" x2="610.14" y2="244.40" stroke="#000" stroke-width="0.8"/>
<text x="600.71" y="253.20" font-size="8.20" fill="#1a1a1a" textLength="18.56" lengthAdjust="spacingAndGlyphs" stroke="#1a1a1a" stroke-width="0.25">1000</text>
<line x1="648.28" y1="241.30" x2="648.28" y2="244.40" stroke="#000" stroke-width="0.8"/>
<text x="638.85" y="253.20" font-size="8.20" fill="#1a1a1a" textLength="18.56" lengthAdjust="spacingAndGlyphs" stroke="#1a1a1a" stroke-width="0.25">1200</text>
<line x1="403.95" y1="228.45" x2="407.05" y2="228.45" stroke="#000" stroke-width="0.8"/>
<text x="389.48" y="231.45" font-size="8.20" fill="#1a1a1a" textLength="11.62" lengthAdjust="spacingAndGlyphs" stroke="#1a1a1a" stroke-width="0.25">0.4</text>
<line x1="403.95" y1="195.42" x2="407.05" y2="195.42" stroke="#000" stroke-width="0.8"/>
<text x="389.71" y="198.42" font-size="8.20" fill="#1a1a1a" textLength="11.47" lengthAdjust="spacingAndGlyphs" stroke="#1a1a1a" stroke-width="0.25">0.5</text>
<line x1="403.95" y1="162.39" x2="407.05" y2="162.39" stroke="#000" stroke-width="0.8"/>
<text x="389.52" y="165.39" font-size="8.20" fill="#1a1a1a" textLength="11.71" lengthAdjust="spacingAndGlyphs" stroke="#1a1a1a" stroke-width="0.25">0.6</text>
<line x1="403.95" y1="129.36" x2="407.05" y2="129.36" stroke="#000" stroke-width="0.8"/>
<text x="389.71" y="132.36" font-size="8.20" fill="#1a1a1a" textLength="11.56" lengthAdjust="spacingAndGlyphs" stroke="#1a1a1a" stroke-width="0.25">0.7</text>
<line x1="403.95" y1="96.33" x2="407.05" y2="96.33" stroke="#000" stroke-width="0.8"/>
<text x="389.56" y="99.33" font-size="8.20" fill="#1a1a1a" textLength="11.63" lengthAdjust="spacingAndGlyphs" stroke="#1a1a1a" stroke-width="0.25">0.8</text>
<line x1="403.95" y1="63.30" x2="407.05" y2="63.30" stroke="#000" stroke-width="0.8"/>
<text x="389.59" y="66.30" font-size="8.20" fill="#1a1a1a" textLength="11.63" lengthAdjust="spacingAndGlyphs" stroke="#1a1a1a" stroke-width="0.25">0.9</text>
<text x="490.98" y="30.75" font-size="10.20" fill="#1a1a1a" textLength="106.45" lengthAdjust="spacingAndGlyphs" stroke="#1a1a1a" stroke-width="0.25">DCE Modality Accuracy</text>
<text x="532.22" y="263.60" font-size="8.20" fill="#1a1a1a" textLength="24.14" lengthAdjust="spacingAndGlyphs" stroke="#1a1a1a" stroke-width="0.25">Epoch</text>
<text transform="translate(383.90,139.25) rotate(-90)" x="-17.39" y="0" font-size="8.20" fill="#1a1a1a" textLength="34.81" lengthAdjust="spacingAndGlyphs" stroke="#1a1a1a" stroke-width="0.25">Accuracy</text>
<rect x="556.20" y="40.80" width="122.70" height="12.60" rx="1.6" fill="#fff" fill-opacity="0.8" stroke="#d6d6d6" stroke-width="0.8"/>
<line x1="558.30" y1="45.90" x2="575.20" y2="45.90" stroke="#1f77b4" stroke-width="1.2"/>
<text x="580.76" y="48.80" font-size="8.20" fill="#1a1a1a" textLength="94.81" lengthAdjust="spacingAndGlyphs" stroke="#1a1a1a" stroke-width="0.25">Validation Accuracy DCE</text>
<rect x="41.05" y="318.55" width="280.45" height="208.75" fill="none" stroke="#000" stroke-width="0.8"/>
<polyline points="53.4,407.6 53.6,413.7 53.8,401.5 54.0,416.8 54.2,404.6 54.4,413.7 54.6,398.4 54.8,377.5 55.0,407.6 55.2,433.0 55.4,401.5 55.6,413.7 55.8,395.4 56.0,410.7 56.1,398.4 56.3,416.8 56.5,395.4 56.7,407.6 56.9,392.3 57.1,377.5 57.3,404.6 57.5,389.3 57.7,407.6 57.9,377.5 58.1,398.4 58.3,401.5 58.5,377.5 58.7,392.3 58.9,377.5 59.1,404.6 59.3,377.5 59.4,395.4 59.6,377.5 59.8,401.5 60.0,386.2 60.2,392.3 60.4,377.5 60.6,383.2 60.8,377.5 61.0,386.2 61.2,377.5 61.4,383.2 61.6,377.5 61.8,377.5 62.0,377.5 62.2,377.5 62.4,377.5 62.6,377.5 62.7,377.5 62.9,377.5 63.1,377.5 63.3,378.6 63.5,379.7 63.7,380.9 63.9,382.0 64.1,383.2 64.3,381.7 64.5,380.3 64.7,378.9 64.9,377.5 65.1,383.2 65.3,456.9 65.5,398.4 65.7,380.1 65.9,378.8 66.0,377.5 66.2,377.1 66.4,376.7 66.6,376.3 66.8,375.9 67.0,375.5 67.2,375.6 67.4,375.7 67.6,375.8 67.8,375.9 68.0,376.0 68.2,376.1 68.4,376.2 68.6,376.2 68.8,376.3 69.0,376.4 69.2,374.6 69.3,372.8 69.5,370.9 69.7,375.5 69.9,375.3 70.1,375.1 70.3,374.9 70.5,374.8 70.7,374.6 70.9,374.4 71.1,374.2 71.3,374.0 71.5,374.2 71.7,374.4 71.9,374.6 72.1,371.2 72.3,367.9 72.5,370.9 72.6,374.0 72.8,353.5 73.0,367.9 73.2,361.8 73.4,355.6 73.6,364.8 73.8,349.5 74.0,334.2 74.2,338.9 74.4,336.9 74.6,339.9 74.8,341.5 75.0,327.6 75.2,330.0 75.4,329.1 75.6,329.5 75.8,331.4 75.9,341.5 76.1,342.5 76.3,329.5 76.5,331.7 76.7,331.8 76.9,336.6 77.1,335.8 77.3,338.0 77.5,339.2 77.7,336.0 77.9,338.0 78.1,337.5 78.3,333.7 78.5,332.3 78.7,329.7 78.9,327.5 79.1,328.0 79.2,334.0 79.4,339.3 79.6,341.9 79.8,329.7 80.0,341.2 80.2,342.4 80.4,331.0 80.6,341.8 80.8,341.8 81.0,337.5 81.2,327.8 81.4,330.3 81.6,332.1 81.8,336.4 82.0,334.2 82.2,337.8 82.3,338.0 82.5,377.7 82.7,377.5 82.9,377.5 83.1,377.5 83.3,377.5 83.5,377.5 83.7,377.5 83.9,377.5 84.1,377.5 84.3,377.5 84.5,377.5 84.7,377.5 84.9,377.5 85.1,377.5 85.3,389.3 85.5,377.5 85.6,377.3 85.8,377.0 86.0,376.8 86.2,376.6 86.4,376.4 86.6,376.2 86.8,376.1 87.0,376.4 87.2,376.6 87.4,375.3 87.6,375.3 87.8,375.2 88.0,375.2 88.2,376.5 88.4,376.8 88.6,377.2 88.8,376.0 88.9,377.0 89.1,377.2 89.3,377.1 89.5,376.8 89.7,376.9 89.9,377.0 90.1,377.1 90.3,377.2 90.5,377.3 90.7,377.4 90.9,377.5 91.1,377.5 91.3,377.5 91.5,377.5 91.7,377.5 91.9,377.5 92.1,377.5 92.2,377.5 92.4,377.5 92.6,377.5 92.8,377.5 93.0,377.5 93.2,377.5 93.4,377.5 93.6,377.5 93.8,366.3 94.0,377.5 94.2,377.5 94.4,377.5 94.6,377.5 94.8,377.5 95.0,377.5 95.2,377.5 95.4,377.5 95.5,377.5 95.7,377.5 95.9,377.5 96.1,377.5 96.3,377.5 96.5,377.5 96.7,377.5 96.9,377.5 97.1,377.5 97.3,377.5 97.5,377.5 97.7,377.5 97.9,377.5 98.1,377.5 98.3,377.5 98.5,377.5 98.7,377.5 98.8,377.5 99.0,377.5 99.2,377.5 99.4,377.5 99.6,377.5 99.8,377.5 100.0,377.5 100.2,377.5 100.4,377.5 100.6,377.5 100.8,377.5 101.0,377.5 101.2,377.5 101.4,377.5 101.6,377.5 101.8,383.5 102.0,377.5 102.1,377.5 102.3,377.5 102.5,377.5 102.7,377.5 102.9,377.5 103.1,377.5 103.3,377.5 103.5,377.5 103.7,377.5 103.9,377.5 104.1,377.5 104.3,377.5 104.5,377.5 104.7,377.5 104.9,377.5 105.1,377.5 105.3,377.5 105.4,377.5 105.6,377.5 105.8,377.5 106.0,377.5 106.2,377.5 106.4,377.5 106.6,377.5 106.8,377.5 107.0,377.5 107.2,377.5 107.4,377.5 107.6,377.5 107.8,377.5 108.0,377.5 108.2,377.5 108.4,377.5 108.6,377.5 108.7,377.5 108.9,377.5 109.1,377.5 109.3,377.5 109.5,377.5 109.7,377.5 109.9,377.5 110.1,377.5 110.3,377.5 110.5,377.5 110.7,377.5 110.9,377.5 111.1,377.5 111.3,377.5 111.5,377.5 111.7,377.5 111.9,377.5 112.0,377.5 112.2,377.5 112.4,377.5 112.6,377.5 112.8,377.5 113.0,377.5 113.2,377.5 113.4,377.5 113.6,377.5 113.8,377.5 114.0,377.5 114.2,377.5 114.4,377.5 114.6,377.5 114.8,377.5 115.0,377.5 115.2,377.5 115.3,377.5 115.5,377.5 115.7,377.5 115.9,377.5 116.1,377.5 116.3,377.5 116.5,377.5 116.7,377.5 116.9,377.5 117.1,377.5 117.3,377.5 117.5,377.5 117.7,377.5 117.9,377.5 118.1,377.5 118.3,377.5 118.5,377.5 118.6,377.5 118.8,377.5 119.0,377.5 119.2,377.5 119.4,377.5 119.6,377.5 119.8,377.5 120.0,377.5 120.2,377.5 120.4,377.5 120.6,377.5 120.8,377.5 121.0,377.5 121.2,377.5 121.4,377.5 121.6,377.5 121.8,377.5 121.9,377.5 122.1,377.5 122.3,377.5 122.5,377.5 122.7,377.5 122.9,377.5 123.1,377.5 123.3,377.5 123.5,377.5 123.7,377.5 123.9,377.5 124.1,377.5 124.3,377.5 124.5,377.5 124.7,377.5 124.9,377.5 125.0,377.5 125.2,377.5 125.4,377.5 125.6,377.5 125.8,377.5 126.0,377.5 126.2,377.5 126.4,377.5 126.6,377.5 126.8,377.5 127.0,377.5 127.2,377.5 127.4,377.5 127.6,377.5 127.8,377.5 128.0,377.5 128.2,377.5 128.3,377.5 128.5,377.5 128.7,377.5 128.9,377.5 129.1,377.5 129.3,377.5 129.5,377.5 129.7,377.5 129.9,377.5 130.1,377.5 130.3,377.5 130.5,377.5 130.7,377.5 130.9,377.5 131.1,377.5 131.3,377.5 131.5,377.5 131.6,377.5 131.8,377.5 132.0,377.5 132.2,377.5 132.4,377.5 132.6,377.5 132.8,377.5 133.0,377.5 133.2,377.5 133.4,377.5 133.6,377.5 133.8,377.5 134.0,377.5 134.2,377.5 134.4,377.5 134.6,377.5 134.8,377.5 134.9,377.5 135.1,377.5 135.3,377.5 135.5,377.5 135.7,377.5 135.9,377.5 136.1,377.5 136.3,377.5 136.5,377.5 136.7,377.5 136.9,377.5 137.1,377.5 137.3,489.9 137.5,377.5 137.7,377.5 137.9,377.5 138.1,377.5 138.2,377.5 138.4,377.5 138.6,377.5 138.8,377.5 139.0,377.5 139.2,364.8 139.4,358.4 139.6,367.9 139.8,377.5 140.0,383.2 140.2,377.5 140.4,377.5 140.6,377.5 140.8,377.5 141.0,377.5 141.2,377.5 141.4,377.5 141.5,377.5 141.7,377.5 141.9,377.5 142.1,377.5 142.3,377.5 142.5,377.5 142.7,377.5 142.9,377.5 143.1,377.5 143.3,377.5 143.5,377.5 143.7,377.5 143.9,377.5 144.1,377.5 144.3,377.5 144.5,377.5 144.7,377.5 144.8,377.5 145.0,377.5 145.2,377.5 145.4,377.5 145.6,377.5 145.8,377.5 146.0,377.5 146.2,377.5 146.4,377.5 146.6,377.5 146.8,377.5 147.0,377.5 147.2,377.5 147.4,377.5 147.6,383.9 147.8,384.1 148.0,384.1 148.1,380.5 148.3,381.0 148.5,377.2 148.7,377.7 148.9,378.7 149.1,380.0 149.3,378.9 149.5,379.7 149.7,377.4 149.9,378.6 150.1,381.7 150.3,381.9 150.5,380.6 150.7,382.2 150.9,376.3 151.1,375.9 151.3,376.2 151.4,382.2 151.6,377.2 151.8,377.7 152.0,377.4 152.2,381.7 152.4,383.7 152.6,378.3 152.8,376.7 153.0,375.9 153.2,375.8 153.4,379.7 153.6,376.3 153.8,375.8 154.0,380.1 154.2,380.0 154.4,379.1 154.6,376.5 154.7,376.0 154.9,376.8 155.1,381.9 155.3,380.6 155.5,382.1 155.7,383.5 155.9,376.0 156.1,383.4 156.3,383.9 156.5,378.7 156.7,379.3 156.9,383.1 157.1,384.1 157.3,383.7 157.5,382.7 157.7,378.9 157.9,381.0 158.0,378.3 158.2,378.3 158.4,382.1 158.6,382.3 158.8,380.6 159.0,379.2 159.2,379.4 159.4,383.1 159.6,378.6 159.8,377.5 160.0,378.0 160.2,383.2 160.4,382.3 160.6,383.6 160.8,384.1 161.0,382.9 161.2,378.5 161.3,376.2 161.5,375.8 161.7,379.9 161.9,383.2 162.1,383.8 162.3,379.4 162.5,380.2 162.7,379.0 162.9,379.3 163.1,381.2 163.3,383.4 163.5,376.0 163.7,375.8 163.9,377.8 164.1,379.8 164.3,378.8 164.5,377.9 164.6,376.5 164.8,380.4 165.0,381.4 165.2,382.3 165.4,378.4 165.6,381.6 165.8,380.7 166.0,381.6 166.2,383.9 166.4,384.1 166.6,381.4 166.8,382.9 167.0,380.1 167.2,380.2 167.4,377.3 167.6,380.1 167.7,377.0 167.9,378.0 168.1,378.9 168.3,378.2 168.5,377.5 168.7,377.5 168.9,377.5 169.1,377.5 169.3,377.5 169.5,377.5 169.7,377.5 169.9,377.5 170.1,377.5 170.3,377.5 170.5,377.5 170.7,377.5 170.9,377.5 171.0,377.5 171.2,377.5 171.4,377.5 171.6,377.5 171.8,377.5 172.0,377.5 172.2,377.5 172.4,377.5 172.6,377.5 172.8,377.5 173.0,377.5 173.2,377.5 173.4,377.5 173.6,377.5 173.8,377.5 174.0,377.5 174.2,377.5 174.3,377.5 174.5,377.5 174.7,377.5 174.9,377.5 175.1,377.5 175.3,377.5 175.5,377.5 175.7,377.5 175.9,377.5 176.1,377.5 176.3,377.5 176.5,377.5 176.7,377.5 176.9,377.5 177.1,377.5 177.3,377.5 177.5,377.5 177.6,377.5 177.8,377.5 178.0,377.5 178.2,377.5 178.4,377.5 178.6,377.5 178.8,377.5 179.0,377.5 179.2,377.5 179.4,396.8 179.6,416.2 179.8,451.4 180.0,470.3 180.2,489.3 180.4,492.1 180.6,511.9 180.8,492.2 180.9,509.9 181.1,508.2 181.3,513.0 181.5,514.7 181.7,500.4 181.9,501.1 182.1,500.1 182.3,499.6 182.5,497.7 182.7,514.1 182.9,508.9 183.1,506.4 183.3,504.4 183.5,498.2 183.7,509.6 183.9,489.2 184.1,489.3 184.2,507.1 184.4,497.5 184.6,512.1 184.8,507.5 185.0,502.4 185.2,499.8 185.4,499.9 185.6,498.4 185.8,503.5 186.0,496.4 186.2,501.5 186.4,502.8 186.6,502.8 186.8,510.1 187.0,511.3 187.2,501.5 187.4,507.0 187.5,511.7 187.7,514.1 187.9,517.4 188.1,505.2 188.3,493.5 188.5,494.7 188.7,511.7 188.9,514.7 189.1,511.1 189.3,491.2 189.5,506.2 189.7,500.3 189.9,488.7 190.1,508.6 190.3,503.2 190.5,500.0 190.7,498.0 190.8,502.0 191.0,511.7 191.2,516.3 191.4,498.4 191.6,500.8 191.8,497.4 192.0,499.0 192.2,498.5 192.4,494.2 192.6,490.0 192.8,499.8 193.0,496.4 193.2,507.3 193.4,490.1 193.6,504.6 193.8,509.9 194.0,513.9 194.1,486.9 194.3,459.8 194.5,432.7 194.7,459.7 194.9,459.2 195.1,460.4 195.3,454.2 195.5,472.2 195.7,474.4 195.9,463.3 196.1,467.5 196.3,468.7 196.5,473.2 196.7,479.3 196.9,480.1 197.1,481.3 197.3,472.1 197.4,482.7 197.6,481.2 197.8,481.5 198.0,495.2 198.2,499.7 198.4,496.6 198.6,487.1 198.8,489.7 199.0,477.7 199.2,475.8 199.4,473.6 199.6,478.0 199.8,482.8 200.0,482.1 200.2,494.3 200.4,486.8 200.6,475.0 200.7,473.8 200.9,476.1 201.1,477.2 201.3,490.7 201.5,488.1 201.7,479.9 201.9,484.8 202.1,489.9 202.3,493.5 202.5,497.1 202.7,480.3 202.9,480.4 203.1,495.5 203.3,499.1 203.5,479.3 203.7,475.6 203.9,482.4 204.0,476.2 204.2,475.5 204.4,480.1 204.6,488.9 204.8,496.8 205.0,495.2 205.2,499.0 205.4,507.1 205.6,515.3 205.8,488.1 206.0,461.0 206.2,433.8 206.4,406.6 206.6,379.5 206.8,378.4 207.0,381.9 207.2,380.8 207.3,379.7 207.5,380.5 207.7,382.7 207.9,381.6 208.1,382.0 208.3,382.7 208.5,381.9 208.7,379.7 208.9,378.8 209.1,381.2 209.3,380.4 209.5,379.8 209.7,382.0 209.9,380.5 210.1,380.6 210.3,382.8 210.5,379.0 210.6,379.5 210.8,378.3 211.0,381.3 211.2,382.0 211.4,377.9 211.6,378.2 211.8,379.7 212.0,380.1 212.2,377.8 212.4,377.8 212.6,378.8 212.8,377.5 213.0,508.5 213.2,511.3 213.4,509.8 213.6,511.2 213.7,509.6 213.9,511.5 214.1,510.4 214.3,513.1 214.5,511.1 214.7,509.4 214.9,504.4 215.1,499.7 215.3,501.0 215.5,508.4 215.7,506.0 215.9,511.4 216.1,501.3 216.3,499.4 216.5,499.4 216.7,502.4 216.9,512.8 217.0,508.3 217.2,503.0 217.4,506.2 217.6,509.3 217.8,510.5 218.0,512.0 218.2,515.1 218.4,509.0 218.6,504.8 218.8,507.3 219.0,503.4 219.2,507.6 219.4,509.9 219.6,509.3 219.8,467.6 220.0,487.9 220.2,466.1 220.3,481.5 220.5,487.5 220.7,477.7 220.9,484.1 221.1,493.4 221.3,472.0 221.5,475.5 221.7,485.3 221.9,469.7 222.1,465.9 222.3,508.6 222.5,484.0 222.7,496.8 222.9,493.6 223.1,492.5 223.3,467.6 223.5,462.7 223.6,462.7 223.8,462.7 224.0,464.7 224.2,469.4 224.4,474.6 224.6,474.1 224.8,474.8 225.0,480.2 225.2,471.4 225.4,471.7 225.6,497.4 225.8,488.7 226.0,503.2 226.2,501.6 226.4,478.1 226.6,473.2 226.8,467.1 226.9,462.7 227.1,470.1 227.3,491.6 227.5,498.3 227.7,490.4 227.9,482.1 228.1,462.8 228.3,462.7 228.5,487.1 228.7,490.0 228.9,474.6 229.1,483.1 229.3,484.6 229.5,484.7 229.7,500.6 229.9,465.9 230.1,501.6 230.2,506.0 230.4,496.9 230.6,490.7 230.8,483.7 231.0,472.4 231.2,477.6 231.4,476.8 231.6,474.9 231.8,494.7 232.0,497.4 232.2,473.8 232.4,450.1 232.6,426.4 232.8,402.7 233.0,416.2 233.2,409.5 233.4,408.7 233.5,409.2 233.7,409.7 233.9,425.2 234.1,422.2 234.3,421.0 234.5,412.1 234.7,423.8 234.9,431.8 235.1,416.5 235.3,432.9 235.5,426.8 235.7,426.9 235.9,417.8 236.1,418.7 236.3,419.1 236.5,418.5 236.7,420.1 236.8,421.6 237.0,425.3 237.2,429.4 237.4,428.5 237.6,429.1 237.8,424.0 238.0,423.0 238.2,421.9 238.4,433.9 238.6,436.6 238.8,462.6 239.0,488.6 239.2,514.7 239.4,479.2 239.6,480.7 239.8,499.2 240.0,499.4 240.1,486.8 240.3,484.0 240.5,479.3 240.7,479.9 240.9,480.9 241.1,481.1 241.3,489.0 241.5,489.8 241.7,485.1 241.9,489.1 242.1,484.9 242.3,486.6 242.5,486.9 242.7,478.4 242.9,492.4 243.1,483.2 243.3,479.3 243.4,496.1 243.6,493.5 243.8,477.1 244.0,481.4 244.2,484.4 244.4,481.2 244.6,477.2 244.8,480.3 245.0,498.4 245.2,490.0 245.4,490.9 245.6,493.4 245.8,492.9 246.0,495.7 246.2,488.5 246.4,493.4 246.6,494.1 246.7,491.6 246.9,489.7 247.1,484.7 247.3,481.9 247.5,478.3 247.7,474.9 247.9,474.9 248.1,474.9 248.3,474.9 248.5,491.1 248.7,490.8 248.9,478.5 249.1,486.2 249.3,488.4 249.5,485.1 249.7,482.6 249.9,478.7 250.0,477.7 250.2,475.2 250.4,480.0 250.6,482.8 250.8,490.8 251.0,488.9 251.2,492.7 251.4,490.5 251.6,493.4 251.8,489.4 252.0,489.5 252.2,494.4 252.4,494.1 252.6,476.8 252.8,481.0 253.0,476.7 253.2,496.5 253.3,487.7 253.5,492.9 253.7,494.8 253.9,497.5 254.1,475.3 254.3,481.4 254.5,497.0 254.7,497.4 254.9,494.8 255.1,495.3 255.3,492.8 255.5,490.3 255.7,481.1 255.9,482.6 256.1,482.1 256.3,486.6 256.4,495.2 256.6,494.2 256.8,487.0 257.0,478.6 257.2,478.1 257.4,481.1 257.6,476.4 257.8,481.3 258.0,480.8 258.2,483.0 258.4,481.8 258.6,486.6 258.8,497.3 259.0,489.8 259.2,475.0 259.4,495.3 259.6,493.6 259.7,493.4 259.9,493.9 260.1,498.7 260.3,492.6 260.5,491.4 260.7,491.8 260.9,494.1 261.1,495.7 261.3,488.6 261.5,492.7 261.7,495.3 261.9,493.1 262.1,488.0 262.3,485.1 262.5,488.9 262.7,483.9 262.9,498.8 263.0,488.4 263.2,484.2 263.4,479.9 263.6,498.3 263.8,494.6 264.0,494.9 264.2,500.8 264.4,482.3 264.6,499.9 264.8,494.4 265.0,497.5 265.2,493.5 265.4,500.0 265.6,497.9 265.8,489.5 266.0,490.0 266.2,499.1 266.3,489.9 266.5,488.4 266.7,481.1 266.9,485.7 267.1,492.5 267.3,494.2 267.5,494.4 267.7,493.1 267.9,485.0 268.1,486.4 268.3,485.6 268.5,488.4 268.7,488.4 268.9,495.4 269.1,496.0 269.3,500.0 269.5,498.1 269.6,500.4 269.8,496.7 270.0,487.1 270.2,498.7 270.4,498.6 270.6,499.5 270.8,487.1 271.0,483.7 271.2,483.8 271.4,481.4 271.6,480.6 271.8,479.5 272.0,481.5 272.2,479.5 272.4,480.0 272.6,484.1 272.8,485.1 272.9,488.6 273.1,491.0 273.3,487.6 273.5,490.0 273.7,489.3 273.9,492.4 274.1,494.5 274.3,480.9 274.5,483.0 274.7,479.5 274.9,481.5 275.1,482.1 275.3,499.7 275.5,495.9 275.7,496.6 275.9,494.2 276.1,498.6 276.2,497.3 276.4,500.5 276.6,497.3 276.8,498.8 277.0,498.4 277.2,500.2 277.4,490.5 277.6,491.5 277.8,494.3 278.0,482.7 278.2,492.7 278.4,493.9 278.6,493.5 278.8,490.6 279.0,491.2 279.2,487.1 279.4,498.4 279.5,497.1 279.7,496.8 279.9,482.9 280.1,482.1 280.3,485.5 280.5,484.7 280.7,485.0 280.9,479.5 281.1,482.2 281.3,499.2 281.5,496.3 281.7,494.9 281.9,493.0 282.1,500.1 282.3,498.3 282.5,485.0 282.7,484.5 282.8,484.2 283.0,483.4 283.2,498.1 283.4,491.4 283.6,489.4 283.8,483.8 284.0,486.6 284.2,481.6 284.4,492.5 284.6,493.9 284.8,484.5 285.0,480.8 285.2,485.3 285.4,492.2 285.6,495.7 285.8,493.4 286.0,493.1 286.1,487.0 286.3,486.8 286.5,487.7 286.7,489.7 286.9,487.3 287.1,494.5 287.3,499.3 287.5,491.4 287.7,494.6 287.9,488.9 288.1,491.4 288.3,480.4 288.5,479.5 288.7,483.5 288.9,500.9 289.1,498.4 289.3,497.3 289.4,488.4 289.6,482.5 289.8,482.0 290.0,493.1 290.2,497.1 290.4,494.1 290.6,492.3 290.8,490.1 291.0,496.0 291.2,498.1 291.4,482.4 291.6,483.0 291.8,479.5 292.0,482.9 292.2,473.7 292.4,476.6 292.6,472.2 292.7,495.9 292.9,484.8 293.1,471.5 293.3,375.5 293.5,485.8 293.7,474.8 293.9,472.2 294.1,472.1 294.3,471.9 294.5,470.2 294.7,462.7 294.9,499.4 295.1,498.3 295.3,482.0 295.5,466.9 295.7,467.4 295.9,493.3 296.0,468.8 296.2,473.1 296.4,469.3 296.6,478.3 296.8,472.4 297.0,471.5 297.2,483.4 297.4,476.3 297.6,466.9 297.8,463.5 298.0,469.2 298.2,491.5 298.4,490.2 298.6,482.9 298.8,471.8 299.0,495.3 299.2,465.0 299.3,434.8 299.5,404.6 299.7,390.4 299.9,376.3 300.1,381.3 300.3,388.8 300.5,380.7 300.7,385.0 300.9,387.6 301.1,385.7 301.3,378.2 301.5,378.1 301.7,387.1 301.9,378.8 302.1,388.1 302.3,389.1 302.4,389.3 302.6,377.1 302.8,384.9 303.0,384.4 303.2,381.8 303.4,380.3 303.6,387.7 303.8,377.5 304.0,384.5 304.2,377.9 304.4,378.4 304.6,375.6 304.8,377.1 305.0,379.0 305.2,376.3 305.4,383.0 305.6,381.4 305.7,404.6 305.9,384.0 306.1,377.7 306.3,384.3 306.5,386.0 306.7,383.5 306.9,385.2 307.1,382.7 307.3,388.3 307.5,379.0 307.7,381.2 307.9,380.1" fill="none" stroke="#1f77b4" stroke-width="1.35" stroke-linejoin="round" />
<line x1="53.43" y1="527.30" x2="53.43" y2="530.40" stroke="#000" stroke-width="0.8"/>
<text x="51.10" y="539.20" font-size="8.20" fill="#1a1a1a" textLength="4.67" lengthAdjust="spacingAndGlyphs" stroke="#1a1a1a" stroke-width="0.25">0</text>
<line x1="92.25" y1="527.30" x2="92.25" y2="530.40" stroke="#000" stroke-width="0.8"/>
<text x="85.22" y="539.20" font-size="8.20" fill="#1a1a1a" textLength="14.01" lengthAdjust="spacingAndGlyphs" stroke="#1a1a1a" stroke-width="0.25">200</text>
<line x1="131.07" y1="527.30" x2="131.07" y2="530.40" stroke="#000" stroke-width="0.8"/>
<text x="124.16" y="539.20" font-size="8.20" fill="#1a1a1a" textLength="13.98" lengthAdjust="spacingAndGlyphs" stroke="#1a1a1a" stroke-width="0.25">400</text>
<line x1="169.88" y1="527.30" x2="169.88" y2="530.40" stroke="#000" stroke-width="0.8"/>
<text x="162.84" y="539.20" font-size="8.20" fill="#1a1a1a" textLength="14.04" lengthAdjust="spacingAndGlyphs" stroke="#1a1a1a" stroke-width="0.25">600</text>
<line x1="208.70" y1="527.30" x2="208.70" y2="530.40" stroke="#000" stroke-width="0.8"/>
<text x="201.70" y="539.20" font-size="8.20" fill="#1a1a1a" textLength="14.00" lengthAdjust="spacingAndGlyphs" stroke="#1a1a1a" stroke-width="0.25">800</text>
<line x1="247.52" y1="527.30" x2="247.52" y2="530.40" stroke="#000" stroke-width="0.8"/>
<text x="238.10" y="539.20" font-size="8.20" fill="#1a1a1a" textLength="18.56" lengthAdjust="spacingAndGlyphs" stroke="#1a1a1a" stroke-width="0.25">1000</text>
<line x1="286.34" y1="527.30" x2="286.34" y2="530.40" stroke="#000" stroke-width="0.8"/>
<text x="276.91" y="539.20" font-size="8.20" fill="#1a1a1a" textLength="18.56" lengthAdjust="spacingAndGlyphs" stroke="#1a1a1a" stroke-width="0.25">1200</text>
<line x1="37.95" y1="505.48" x2="41.05" y2="505.48" stroke="#000" stroke-width="0.8"/>
<text x="23.74" y="508.48" font-size="8.20" fill="#1a1a1a" textLength="11.52" lengthAdjust="spacingAndGlyphs" stroke="#1a1a1a" stroke-width="0.25">0.1</text>
<line x1="37.95" y1="474.90" x2="41.05" y2="474.90" stroke="#000" stroke-width="0.8"/>
<text x="23.82" y="477.90" font-size="8.20" fill="#1a1a1a" textLength="11.44" lengthAdjust="spacingAndGlyphs" stroke="#1a1a1a" stroke-width="0.25">0.2</text>
<line x1="37.95" y1="444.32" x2="41.05" y2="444.32" stroke="#000" stroke-width="0.8"/>
<text x="23.67" y="447.32" font-size="8.20" fill="#1a1a1a" textLength="11.56" lengthAdjust="spacingAndGlyphs" stroke="#1a1a1a" stroke-width="0.25">0.3</text>
<line x1="37.95" y1="413.74" x2="41.05" y2="413.74" stroke="#000" stroke-width="0.8"/>
<text x="23.48" y="416.74" font-size="8.20" fill="#1a1a1a" textLength="11.62" lengthAdjust="spacingAndGlyphs" stroke="#1a1a1a" stroke-width="0.25">0.4</text>
<line x1="37.95" y1="383.16" x2="41.05" y2="383.16" stroke="#000" stroke-width="0.8"/>
<text x="23.71" y="386.16" font-size="8.20" fill="#1a1a1a" textLength="11.47" lengthAdjust="spacingAndGlyphs" stroke="#1a1a1a" stroke-width="0.25">0.5</text>
<line x1="37.95" y1="352.58" x2="41.05" y2="352.58" stroke="#000" stroke-width="0.8"/>
<text x="23.52" y="355.58" font-size="8.20" fill="#1a1a1a" textLength="11.71" lengthAdjust="spacingAndGlyphs" stroke="#1a1a1a" stroke-width="0.25">0.6</text>
<line x1="37.95" y1="322.00" x2="41.05" y2="322.00" stroke="#000" stroke-width="0.8"/>
<text x="23.71" y="325.00" font-size="8.20" fill="#1a1a1a" textLength="11.56" lengthAdjust="spacingAndGlyphs" stroke="#1a1a1a" stroke-width="0.25">0.7</text>
<text x="130.59" y="312.85" font-size="10.20" fill="#1a1a1a" textLength="100.05" lengthAdjust="spacingAndGlyphs" stroke="#1a1a1a" stroke-width="0.25">T2 Modality Accuracy</text>
<text x="168.62" y="549.60" font-size="8.20" fill="#1a1a1a" textLength="24.14" lengthAdjust="spacingAndGlyphs" stroke="#1a1a1a" stroke-width="0.25">Epoch</text>
<text transform="translate(18.20,423.25) rotate(-90)" x="-17.69" y="0" font-size="8.20" fill="#1a1a1a" textLength="35.41" lengthAdjust="spacingAndGlyphs" stroke="#1a1a1a" stroke-width="0.25">Accuracy</text>
<rect x="199.90" y="322.90" width="117.20" height="13.40" rx="1.6" fill="#fff" fill-opacity="0.8" stroke="#d6d6d6" stroke-width="0.8"/>
<line x1="201.80" y1="328.40" x2="219.20" y2="328.40" stroke="#1f77b4" stroke-width="1.2"/>
<text x="224.86" y="331.30" font-size="8.20" fill="#1a1a1a" textLength="89.39" lengthAdjust="spacingAndGlyphs" stroke="#1a1a1a" stroke-width="0.25">Validation Accuracy T2</text>
<rect x="402.95" y="318.55" width="278.55" height="206.80" fill="none" stroke="#000" stroke-width="0.8"/>
<polyline points="415.4,391.3 415.6,454.3 415.8,391.3 416.0,391.3 416.2,391.3 416.4,391.3 416.6,391.3 416.8,391.3 417.0,391.3 417.2,391.3 417.4,391.3 417.5,391.3 417.7,391.3 417.9,386.9 418.1,391.3 418.3,402.8 418.5,391.3 418.7,386.9 418.9,391.3 419.1,394.8 419.3,391.3 419.5,391.3 419.7,391.3 419.9,391.3 420.1,391.3 420.2,391.3 420.4,391.3 420.6,391.3 420.8,391.3 421.0,391.3 421.2,391.3 421.4,391.3 421.6,386.9 421.8,391.3 422.0,411.7 422.2,391.3 422.4,386.9 422.6,391.3 422.7,391.3 422.9,391.3 423.1,391.3 423.3,391.3 423.5,391.3 423.7,391.3 423.9,391.3 424.1,391.3 424.3,391.3 424.5,391.3 424.7,391.3 424.9,391.3 425.1,391.3 425.2,391.3 425.4,391.3 425.6,391.3 425.8,391.3 426.0,391.3 426.2,391.3 426.4,391.3 426.6,391.3 426.8,391.3 427.0,391.3 427.2,391.3 427.4,391.3 427.6,391.3 427.8,391.3 427.9,391.3 428.1,391.3 428.3,391.3 428.5,391.3 428.7,391.3 428.9,391.3 429.1,391.3 429.3,391.3 429.5,391.3 429.7,391.3 429.9,391.3 430.1,391.3 430.3,391.3 430.4,391.3 430.6,391.3 430.8,391.3 431.0,391.3 431.2,391.3 431.4,391.3 431.6,391.3 431.8,391.3 432.0,391.3 432.2,391.3 432.4,391.3 432.6,391.3 432.8,391.3 432.9,391.3 433.1,391.3 433.3,391.3 433.5,391.3 433.7,391.3 433.9,391.3 434.1,391.3 434.3,391.3 434.5,391.3 434.7,391.3 434.9,391.3 435.1,391.3 435.3,391.3 435.5,391.3 435.6,391.3 435.8,391.3 436.0,391.3 436.2,391.3 436.4,391.3 436.6,391.3 436.8,391.3 437.0,391.3 437.2,391.3 437.4,391.3 437.6,391.3 437.8,391.3 438.0,391.3 438.1,391.3 438.3,391.3 438.5,391.3 438.7,391.3 438.9,391.3 439.1,391.3 439.3,391.3 439.5,391.3 439.7,391.3 439.9,391.3 440.1,391.3 440.3,391.3 440.5,391.3 440.6,391.3 440.8,391.3 441.0,391.3 441.2,391.3 441.4,391.3 441.6,391.3 441.8,391.3 442.0,391.3 442.2,391.3 442.4,391.3 442.6,391.3 442.8,391.3 443.0,391.3 443.2,391.3 443.3,391.3 443.5,391.3 443.7,391.3 443.9,391.3 444.1,391.3 444.3,391.3 444.5,391.3 444.7,391.3 444.9,391.3 445.1,391.3 445.3,391.3 445.5,391.3 445.7,391.3 445.8,391.3 446.0,391.3 446.2,391.3 446.4,391.3 446.6,391.3 446.8,391.3 447.0,394.8 447.2,391.3 447.4,391.3 447.6,391.3 447.8,391.3 448.0,391.3 448.2,391.3 448.3,391.3 448.5,391.3 448.7,391.3 448.9,391.3 449.1,391.3 449.3,391.3 449.5,391.3 449.7,391.3 449.9,391.3 450.1,391.3 450.3,391.3 450.5,391.3 450.7,391.3 450.9,409.7 451.0,439.4 451.2,469.1 451.4,505.4 451.6,498.4 451.8,512.8 452.0,475.7 452.2,482.3 452.4,492.3 452.6,508.2 452.8,506.3 453.0,479.6 453.2,480.8 453.4,502.2 453.5,483.8 453.7,477.3 453.9,489.3 454.1,493.6 454.3,495.1 454.5,475.0 454.7,491.8 454.9,476.1 455.1,477.2 455.3,493.5 455.5,489.6 455.7,508.7 455.9,480.3 456.0,498.9 456.2,409.7 456.4,391.3 456.6,390.3 456.8,390.3 457.0,387.0 457.2,384.3 457.4,371.1 457.6,377.0 457.8,388.1 458.0,375.0 458.2,380.5 458.4,383.1 458.6,389.5 458.7,389.5 458.9,377.0 459.1,382.3 459.3,382.3 459.5,388.4 459.7,390.3 459.9,378.4 460.1,375.0 460.3,390.6 460.5,390.6 460.7,380.1 460.9,377.8 461.1,379.5 461.2,379.5 461.4,391.3 461.6,443.4 461.8,391.3 462.0,391.3 462.2,391.3 462.4,391.3 462.6,391.3 462.8,391.3 463.0,391.3 463.2,391.3 463.4,391.3 463.6,394.8 463.7,391.3 463.9,391.3 464.1,391.3 464.3,391.3 464.5,391.3 464.7,391.3 464.9,391.3 465.1,394.8 465.3,391.3 465.5,391.3 465.7,391.3 465.9,391.3 466.1,391.3 466.3,391.3 466.4,391.3 466.6,394.8 466.8,391.3 467.0,391.3 467.2,391.3 467.4,391.3 467.6,391.3 467.8,391.3 468.0,391.3 468.2,391.3 468.4,391.3 468.6,391.3 468.8,391.3 468.9,386.9 469.1,386.9 469.3,391.3 469.5,391.3 469.7,391.3 469.9,391.3 470.1,386.9 470.3,386.9 470.5,391.3 470.7,391.3 470.9,391.3 471.1,391.3 471.3,391.3 471.4,394.8 471.6,386.9 471.8,391.3 472.0,391.3 472.2,391.3 472.4,391.3 472.6,394.8 472.8,391.3 473.0,391.3 473.2,391.3 473.4,391.3 473.6,391.3 473.8,391.3 474.0,391.3 474.1,391.3 474.3,391.3 474.5,391.3 474.7,391.3 474.9,391.3 475.1,391.3 475.3,391.3 475.5,391.3 475.7,391.3 475.9,391.3 476.1,391.3 476.3,391.3 476.5,391.3 476.6,391.3 476.8,391.3 477.0,391.3 477.2,391.3 477.4,391.3 477.6,391.3 477.8,391.3 478.0,391.3 478.2,391.3 478.4,391.3 478.6,389.4 478.8,389.4 479.0,389.4 479.2,389.4 479.3,388.2 479.5,388.2 479.7,388.2 479.9,388.2 480.1,388.0 480.3,388.0 480.5,388.0 480.7,379.2 480.9,379.2 481.1,379.2 481.3,379.2 481.5,379.2 481.7,379.2 481.8,375.0 482.0,389.1 482.2,389.1 482.4,389.1 482.6,389.4 482.8,381.7 483.0,381.7 483.2,385.2 483.4,389.0 483.6,389.0 483.8,389.0 484.0,389.0 484.2,389.0 484.3,384.3 484.5,384.3 484.7,384.3 484.9,384.3 485.1,384.3 485.3,384.3 485.5,384.3 485.7,389.8 485.9,390.2 486.1,383.6 486.3,385.7 486.5,382.5 486.7,381.3 486.9,381.3 487.0,375.0 487.2,381.3 487.4,379.3 487.6,386.5 487.8,380.6 488.0,380.4 488.2,375.0 488.4,387.4 488.6,378.6 488.8,378.6 489.0,378.5 489.2,390.3 489.4,389.2 489.5,382.3 489.7,390.4 489.9,390.4 490.1,386.4 490.3,383.5 490.5,383.5 490.7,383.5 490.9,390.8 491.1,390.0 491.3,384.7 491.5,386.5 491.7,389.3 491.9,388.3 492.0,384.7 492.2,386.2 492.4,390.6 492.6,390.6 492.8,386.0 493.0,384.9 493.2,384.9 493.4,384.9 493.6,385.7 493.8,385.7 494.0,382.7 494.2,382.7 494.4,387.1 494.6,387.8 494.7,387.8 494.9,387.8 495.1,389.9 495.3,389.9 495.5,382.1 495.7,386.6 495.9,383.2 496.1,383.2 496.3,388.9 496.5,388.9 496.7,386.7 496.9,389.2 497.1,389.1 497.2,389.1 497.4,389.1 497.6,389.1 497.8,381.9 498.0,390.8 498.2,390.8 498.4,386.1 498.6,386.1 498.8,386.1 499.0,386.1 499.2,387.3 499.4,381.1 499.6,384.2 499.7,387.8 499.9,391.3 500.1,394.8 500.3,391.3 500.5,391.3 500.7,391.3 500.9,391.3 501.1,391.3 501.3,391.3 501.5,391.3 501.7,391.3 501.9,391.3 502.1,391.3 502.3,391.3 502.4,391.3 502.6,391.3 502.8,391.3 503.0,391.3 503.2,391.3 503.4,391.3 503.6,391.3 503.8,391.3 504.0,391.3 504.2,391.3 504.4,391.3 504.6,391.3 504.8,391.3 504.9,391.3 505.1,391.3 505.3,391.3 505.5,391.3 505.7,391.3 505.9,391.3 506.1,391.3 506.3,391.3 506.5,391.3 506.7,391.3 506.9,391.3 507.1,391.3 507.3,391.3 507.4,391.3 507.6,391.3 507.8,391.3 508.0,391.3 508.2,391.3 508.4,391.3 508.6,391.3 508.8,391.3 509.0,391.3 509.2,391.3 509.4,391.3 509.6,391.3 509.8,391.3 510.0,391.3 510.1,391.3 510.3,391.3 510.5,391.3 510.7,391.3 510.9,391.3 511.1,391.3 511.3,391.3 511.5,391.3 511.7,391.3 511.9,391.3 512.1,391.3 512.3,391.3 512.5,391.3 512.6,391.3 512.8,391.3 513.0,391.3 513.2,391.3 513.4,391.3 513.6,391.3 513.8,391.3 514.0,391.3 514.2,391.3 514.4,391.3 514.6,391.3 514.8,391.3 515.0,391.3 515.1,391.3 515.3,391.3 515.5,391.3 515.7,391.3 515.9,391.3 516.1,391.3 516.3,391.3 516.5,391.3 516.7,391.3 516.9,391.3 517.1,391.3 517.3,391.3 517.5,391.3 517.7,391.3 517.8,391.3 518.0,391.3 518.2,391.3 518.4,391.3 518.6,391.3 518.8,391.3 519.0,391.3 519.2,391.3 519.4,391.3 519.6,391.3 519.8,391.3 520.0,391.3 520.2,391.3 520.3,391.3 520.5,391.3 520.7,391.3 520.9,391.3 521.1,391.3 521.3,391.3 521.5,391.3 521.7,391.3 521.9,391.3 522.1,391.3 522.3,391.3 522.5,391.3 522.7,391.3 522.8,391.3 523.0,391.3 523.2,391.3 523.4,391.3 523.6,391.3 523.8,391.3 524.0,391.3 524.2,391.3 524.4,391.3 524.6,391.3 524.8,391.3 525.0,391.3 525.2,391.3 525.4,391.3 525.5,391.3 525.7,391.3 525.9,391.3 526.1,391.3 526.3,391.3 526.5,391.3 526.7,391.3 526.9,391.3 527.1,391.3 527.3,391.3 527.5,391.3 527.7,391.3 527.9,391.3 528.0,391.3 528.2,391.3 528.4,391.3 528.6,391.3 528.8,391.3 529.0,391.3 529.2,374.5 529.4,391.3 529.6,391.3 529.8,391.3 530.0,391.3 530.2,391.3 530.4,391.3 530.5,391.3 530.7,391.3 530.9,394.8 531.1,394.8 531.3,391.3 531.5,391.3 531.7,391.3 531.9,391.3 532.1,391.3 532.3,391.3 532.5,391.3 532.7,387.3 532.9,387.3 533.1,389.7 533.2,387.8 533.4,389.1 533.6,389.1 533.8,389.4 534.0,390.3 534.2,390.3 534.4,390.3 534.6,390.2 534.8,389.4 535.0,389.4 535.2,389.4 535.4,390.5 535.6,390.5 535.7,390.2 535.9,389.6 536.1,389.6 536.3,389.6 536.5,389.6 536.7,387.6 536.9,387.7 537.1,390.2 537.3,390.2 537.5,390.2 537.7,390.2 537.9,387.9 538.1,390.4 538.3,388.2 538.4,388.4 538.6,389.7 538.8,389.3 539.0,389.3 539.2,388.1 539.4,388.1 539.6,388.1 539.8,391.3 540.0,391.3 540.2,391.3 540.4,391.3 540.6,382.0 540.8,391.3 540.9,391.3 541.1,391.3 541.3,391.3 541.5,391.3 541.7,391.3 541.9,391.3 542.1,391.3 542.3,391.3 542.5,391.3 542.7,391.3 542.9,391.3 543.1,391.3 543.3,391.3 543.4,391.3 543.6,391.3 543.8,391.3 544.0,391.3 544.2,391.3 544.4,391.3 544.6,391.3 544.8,391.3 545.0,391.3 545.2,391.3 545.4,391.3 545.6,391.3 545.8,391.3 546.0,391.3 546.1,391.3 546.3,391.3 546.5,391.3 546.7,394.8 546.9,391.3 547.1,391.3 547.3,391.3 547.5,391.3 547.7,391.3 547.9,391.3 548.1,391.3 548.3,391.3 548.5,391.3 548.6,391.3 548.8,391.3 549.0,391.3 549.2,391.3 549.4,391.3 549.6,391.3 549.8,391.3 550.0,391.3 550.2,386.9 550.4,386.9 550.6,391.3 550.8,391.3 551.0,391.3 551.1,391.3 551.3,391.3 551.5,391.3 551.7,391.3 551.9,391.3 552.1,391.3 552.3,391.3 552.5,391.3 552.7,391.3 552.9,391.3 553.1,391.3 553.3,391.3 553.5,391.3 553.7,391.3 553.8,391.3 554.0,391.3 554.2,391.3 554.4,391.3 554.6,391.3 554.8,391.3 555.0,391.3 555.2,392.9 555.4,397.8 555.6,409.7 555.8,419.6 556.0,424.6 556.2,431.5 556.3,419.6 556.5,409.7 556.7,396.2 556.9,390.9 557.1,395.6 557.3,392.3 557.5,392.3 557.7,398.7 557.9,398.7 558.1,393.3 558.3,395.9 558.5,393.9 558.7,393.9 558.8,393.9 559.0,391.0 559.2,394.0 559.4,398.1 559.6,398.1 559.8,386.9 560.0,391.7 560.2,397.6 560.4,397.6 560.6,397.6 560.8,397.5 561.0,393.4 561.2,391.2 561.4,391.2 561.5,397.6 561.7,397.6 561.9,397.6 562.1,397.8 562.3,397.8 562.5,396.5 562.7,393.2 562.9,393.6 563.1,391.8 563.3,394.4 563.5,393.1 563.7,394.8 563.9,394.8 564.0,395.0 564.2,395.0 564.4,395.0 564.6,396.8 564.8,393.4 565.0,396.2 565.2,395.4 565.4,395.4 565.6,398.6 565.8,397.6 566.0,397.6 566.2,392.3 566.4,392.3 566.5,391.3 566.7,366.6 566.9,391.3 567.1,390.5 567.3,389.1 567.5,389.1 567.7,386.9 567.9,387.5 568.1,391.8 568.3,388.2 568.5,394.0 568.7,387.6 568.9,389.7 569.1,390.1 569.2,390.1 569.4,392.8 569.6,389.6 569.8,387.7 570.0,392.1 570.2,387.8 570.4,387.8 570.6,389.3 570.8,390.7 571.0,392.0 571.2,392.0 571.4,390.9 571.6,390.1 571.7,390.1 571.9,390.1 572.1,390.1 572.3,387.6 572.5,393.9 572.7,388.3 572.9,394.8 573.1,389.9 573.3,394.7 573.5,394.6 573.7,393.7 573.9,387.8 574.1,388.4 574.2,388.4 574.4,383.0 574.6,403.2 574.8,409.1 575.0,393.3 575.2,395.2 575.4,398.1 575.6,397.8 575.8,406.8 576.0,394.8 576.2,405.1 576.4,402.8 576.6,439.4 576.8,447.8 576.9,429.5 577.1,391.3 577.3,391.3 577.5,391.3 577.7,391.3 577.9,383.0 578.1,391.3 578.3,392.4 578.5,393.6 578.7,393.8 578.9,394.7 579.1,394.7 579.3,394.7 579.4,394.3 579.6,394.5 579.8,394.2 580.0,394.2 580.2,394.2 580.4,402.8 580.6,392.9 580.8,392.9 581.0,392.9 581.2,392.9 581.4,394.2 581.6,394.2 581.8,394.4 581.9,393.7 582.1,392.2 582.3,394.5 582.5,394.1 582.7,394.7 582.9,394.1 583.1,394.1 583.3,394.1 583.5,394.1 583.7,394.1 583.9,392.4 584.1,392.4 584.3,394.2 584.5,394.2 584.6,391.1 584.8,391.0 585.0,391.0 585.2,392.0 585.4,391.5 585.6,391.5 585.8,394.8 586.0,391.5 586.2,391.5 586.4,392.7 586.6,392.7 586.8,391.5 587.0,394.7 587.1,394.7 587.3,394.7 587.5,394.7 587.7,394.1 587.9,393.5 588.1,393.5 588.3,391.1 588.5,391.1 588.7,391.1 588.9,391.3 589.1,391.3 589.3,391.3 589.5,391.3 589.7,394.8 589.8,391.3 590.0,391.3 590.2,391.3 590.4,391.3 590.6,391.3 590.8,391.3 591.0,391.3 591.2,391.3 591.4,391.3 591.6,391.3 591.8,391.3 592.0,391.3 592.2,391.3 592.3,391.3 592.5,391.3 592.7,391.3 592.9,391.3 593.1,391.3 593.3,391.3 593.5,391.3 593.7,391.3 593.9,391.3 594.1,391.3 594.3,391.3 594.5,391.3 594.7,391.3 594.8,391.3 595.0,391.3 595.2,391.3 595.4,391.3 595.6,391.3 595.8,391.3 596.0,391.3 596.2,391.3 596.4,391.3 596.6,391.3 596.8,391.3 597.0,391.3 597.2,391.3 597.4,391.3 597.5,391.3 597.7,391.3 597.9,391.3 598.1,391.3 598.3,391.3 598.5,391.3 598.7,391.3 598.9,391.3 599.1,391.3 599.3,391.3 599.5,391.3 599.7,391.3 599.9,391.3 600.0,391.3 600.2,380.2 600.4,390.6 600.6,381.9 600.8,380.6 601.0,390.4 601.2,382.6 601.4,381.2 601.6,381.2 601.8,381.2 602.0,381.8 602.2,381.8 602.4,381.8 602.5,381.8 602.7,375.8 602.9,375.8 603.1,375.8 603.3,375.8 603.5,373.2 603.7,372.0 603.9,384.5 604.1,377.9 604.3,375.9 604.5,375.9 604.7,366.7 604.9,385.2 605.1,391.5 605.2,385.2 605.4,385.2 605.6,385.2 605.8,366.7 606.0,384.7 606.2,384.7 606.4,378.8 606.6,372.6 606.8,372.6 607.0,391.5 607.2,378.8 607.4,378.8 607.6,384.3 607.7,385.5 607.9,378.0 608.1,385.1 608.3,377.9 608.5,377.9 608.7,373.6 608.9,373.6 609.1,375.0 609.3,378.8 609.5,378.8 609.7,378.8 609.9,373.7 610.1,373.7 610.2,382.9 610.4,372.2 610.6,382.8 610.8,382.8 611.0,382.8 611.2,373.9 611.4,391.5 611.6,386.3 611.8,386.3 612.0,366.7 612.2,382.9 612.4,372.3 612.6,384.2 612.8,372.8 612.9,366.7 613.1,387.2 613.3,387.2 613.5,380.7 613.7,380.7 613.9,366.7 614.1,379.3 614.3,376.5 614.5,376.5 614.7,376.5 614.9,376.5 615.1,376.5 615.3,382.3 615.4,382.3 615.6,382.3 615.8,385.5 616.0,386.3 616.2,384.9 616.4,378.8 616.6,378.8 616.8,366.7 617.0,378.8 617.2,379.1 617.4,383.5 617.6,391.5 617.8,377.1 617.9,378.2 618.1,384.3 618.3,376.6 618.5,372.3 618.7,382.1 618.9,382.1 619.1,382.1 619.3,382.1 619.5,382.1 619.7,382.1 619.9,382.8 620.1,382.8 620.3,382.4 620.5,374.8 620.6,374.8 620.8,384.6 621.0,384.6 621.2,386.9 621.4,386.9 621.6,387.4 621.8,378.6 622.0,378.6 622.2,378.6 622.4,381.2 622.6,381.2 622.8,381.2 623.0,382.8 623.1,382.8 623.3,385.9 623.5,385.9 623.7,385.9 623.9,380.5 624.1,378.6 624.3,382.0 624.5,382.0 624.7,387.4 624.9,387.4 625.1,378.3 625.3,372.6 625.5,372.6 625.6,381.2 625.8,381.2 626.0,381.2 626.2,381.2 626.4,381.2 626.6,381.2 626.8,381.2 627.0,375.7 627.2,373.4 627.4,373.4 627.6,373.3 627.8,373.3 628.0,385.8 628.2,373.4 628.3,374.2 628.5,380.5 628.7,373.5 628.9,377.6 629.1,382.9 629.3,382.9 629.5,382.9 629.7,377.4 629.9,383.6 630.1,383.6 630.3,373.5 630.5,373.5 630.7,373.5 630.8,373.5 631.0,385.4 631.2,387.2 631.4,375.3 631.6,375.7 631.8,375.7 632.0,375.7 632.2,375.7 632.4,375.7 632.6,378.5 632.8,371.9 633.0,374.9 633.2,372.7 633.3,381.9 633.5,375.4 633.7,373.1 633.9,376.8 634.1,376.8 634.3,384.4 634.5,384.6 634.7,384.6 634.9,373.6 635.1,373.6 635.3,373.6 635.5,375.2 635.7,375.2 635.9,374.1 636.0,383.1 636.2,383.1 636.4,383.1 636.6,366.7 636.8,377.3 637.0,377.3 637.2,386.4 637.4,384.6 637.6,384.6 637.8,384.6 638.0,383.9 638.2,383.9 638.4,381.9 638.5,378.3 638.7,372.9 638.9,366.7 639.1,385.5 639.3,385.5 639.5,385.5 639.7,382.1 639.9,373.5 640.1,373.5 640.3,373.5 640.5,391.5 640.7,381.3 640.9,381.3 641.0,377.3 641.2,374.0 641.4,374.3 641.6,380.6 641.8,372.9 642.0,372.9 642.2,372.9 642.4,372.9 642.6,373.7 642.8,373.9 643.0,373.9 643.2,383.5 643.4,383.1 643.6,383.1 643.7,383.1 643.9,373.4 644.1,373.4 644.3,374.5 644.5,374.5 644.7,391.5 644.9,366.7 645.1,376.4 645.3,377.1 645.5,384.4 645.7,378.8 645.9,378.8 646.1,378.8 646.2,378.8 646.4,391.5 646.6,383.0 646.8,375.2 647.0,375.2 647.2,378.2 647.4,391.5 647.6,387.3 647.8,387.3 648.0,384.8 648.2,373.4 648.4,373.4 648.6,384.4 648.8,372.1 648.9,372.1 649.1,382.1 649.3,382.1 649.5,382.1 649.7,380.0 649.9,385.4 650.1,385.4 650.3,385.4 650.5,374.4 650.7,374.4 650.9,374.4 651.1,376.5 651.3,374.6 651.4,383.3 651.6,383.3 651.8,375.5 652.0,372.8 652.2,379.7 652.4,386.0 652.6,386.0 652.8,370.4 653.0,368.8 653.2,368.8 653.4,360.2 653.6,379.6 653.8,350.3 653.9,380.9 654.1,326.5 654.3,335.4 654.5,379.0 654.7,344.3 654.9,373.3 655.1,367.6 655.3,354.2 655.5,375.4 655.7,375.4 655.9,360.2 656.1,382.6 656.3,372.1 656.5,374.9 656.6,378.4 656.8,380.3 657.0,380.3 657.2,370.2 657.4,370.2 657.6,375.8 657.8,385.0 658.0,386.1 658.2,385.6 658.4,391.3 658.6,391.3 658.8,391.3 659.0,391.3 659.1,391.3 659.3,391.3 659.5,391.3 659.7,391.3 659.9,391.3 660.1,391.3 660.3,391.3 660.5,391.3 660.7,391.3 660.9,391.3 661.1,391.3 661.3,391.3 661.5,391.3 661.6,391.3 661.8,391.3 662.0,391.3 662.2,391.3 662.4,391.3 662.6,391.3 662.8,391.3 663.0,391.3 663.2,391.3 663.4,391.3 663.6,391.3 663.8,391.3 664.0,391.3 664.2,391.3 664.3,391.3 664.5,359.2 664.7,391.3 664.9,391.3 665.1,391.3 665.3,390.7 665.5,390.7 665.7,386.7 665.9,385.9 666.1,385.9 666.3,387.7 666.5,385.2 666.7,385.2 666.8,384.3 667.0,390.4 667.2,389.6 667.4,389.6 667.6,384.7 667.8,384.7 668.0,384.2 668.2,384.9" fill="none" stroke="#1f77b4" stroke-width="1.35" stroke-linejoin="round" />
<line x1="415.43" y1="525.35" x2="415.43" y2="528.45" stroke="#000" stroke-width="0.8"/>
<text x="413.10" y="537.25" font-size="8.20" fill="#1a1a1a" textLength="4.67" lengthAdjust="spacingAndGlyphs" stroke="#1a1a1a" stroke-width="0.25">0</text>
<line x1="453.93" y1="525.35" x2="453.93" y2="528.45" stroke="#000" stroke-width="0.8"/>
<text x="446.90" y="537.25" font-size="8.20" fill="#1a1a1a" textLength="14.01" lengthAdjust="spacingAndGlyphs" stroke="#1a1a1a" stroke-width="0.25">200</text>
<line x1="492.43" y1="525.35" x2="492.43" y2="528.45" stroke="#000" stroke-width="0.8"/>
<text x="485.52" y="537.25" font-size="8.20" fill="#1a1a1a" textLength="13.98" lengthAdjust="spacingAndGlyphs" stroke="#1a1a1a" stroke-width="0.25">400</text>
<line x1="530.94" y1="525.35" x2="530.94" y2="528.45" stroke="#000" stroke-width="0.8"/>
<text x="523.89" y="537.25" font-size="8.20" fill="#1a1a1a" textLength="14.04" lengthAdjust="spacingAndGlyphs" stroke="#1a1a1a" stroke-width="0.25">600</text>
<line x1="569.44" y1="525.35" x2="569.44" y2="528.45" stroke="#000" stroke-width="0.8"/>
<text x="562.43" y="537.25" font-size="8.20" fill="#1a1a1a" textLength="14.00" lengthAdjust="spacingAndGlyphs" stroke="#1a1a1a" stroke-width="0.25">800</text>
<line x1="607.94" y1="525.35" x2="607.94" y2="528.45" stroke="#000" stroke-width="0.8"/>
<text x="598.51" y="537.25" font-size="8.20" fill="#1a1a1a" textLength="18.56" lengthAdjust="spacingAndGlyphs" stroke="#1a1a1a" stroke-width="0.25">1000</text>
<line x1="646.44" y1="525.35" x2="646.44" y2="528.45" stroke="#000" stroke-width="0.8"/>
<text x="637.01" y="537.25" font-size="8.20" fill="#1a1a1a" textLength="18.56" lengthAdjust="spacingAndGlyphs" stroke="#1a1a1a" stroke-width="0.25">1200</text>
<line x1="399.85" y1="508.76" x2="402.95" y2="508.76" stroke="#000" stroke-width="0.8"/>
<text x="376.19" y="511.76" font-size="8.20" fill="#1a1a1a" textLength="20.92" lengthAdjust="spacingAndGlyphs" stroke="#1a1a1a" stroke-width="0.25">0.400</text>
<line x1="399.85" y1="483.99" x2="402.95" y2="483.99" stroke="#000" stroke-width="0.8"/>
<text x="376.34" y="486.99" font-size="8.20" fill="#1a1a1a" textLength="20.77" lengthAdjust="spacingAndGlyphs" stroke="#1a1a1a" stroke-width="0.25">0.425</text>
<line x1="399.85" y1="459.23" x2="402.95" y2="459.23" stroke="#000" stroke-width="0.8"/>
<text x="376.19" y="462.23" font-size="8.20" fill="#1a1a1a" textLength="20.92" lengthAdjust="spacingAndGlyphs" stroke="#1a1a1a" stroke-width="0.25">0.450</text>
<line x1="399.85" y1="434.46" x2="402.95" y2="434.46" stroke="#000" stroke-width="0.8"/>
<text x="376.34" y="437.46" font-size="8.20" fill="#1a1a1a" textLength="20.77" lengthAdjust="spacingAndGlyphs" stroke="#1a1a1a" stroke-width="0.25">0.475</text>
<line x1="399.85" y1="409.70" x2="402.95" y2="409.70" stroke="#000" stroke-width="0.8"/>
<text x="376.19" y="412.70" font-size="8.20" fill="#1a1a1a" textLength="20.92" lengthAdjust="spacingAndGlyphs" stroke="#1a1a1a" stroke-width="0.25">0.500</text>
<line x1="399.85" y1="384.93" x2="402.95" y2="384.93" stroke="#000" stroke-width="0.8"/>
<text x="376.34" y="387.93" font-size="8.20" fill="#1a1a1a" textLength="20.77" lengthAdjust="spacingAndGlyphs" stroke="#1a1a1a" stroke-width="0.25">0.525</text>
<line x1="399.85" y1="360.17" x2="402.95" y2="360.17" stroke="#000" stroke-width="0.8"/>
<text x="376.19" y="363.17" font-size="8.20" fill="#1a1a1a" textLength="20.92" lengthAdjust="spacingAndGlyphs" stroke="#1a1a1a" stroke-width="0.25">0.550</text>
<line x1="399.85" y1="335.40" x2="402.95" y2="335.40" stroke="#000" stroke-width="0.8"/>
<text x="376.34" y="338.40" font-size="8.20" fill="#1a1a1a" textLength="20.77" lengthAdjust="spacingAndGlyphs" stroke="#1a1a1a" stroke-width="0.25">0.575</text>
<text x="487.36" y="312.85" font-size="10.20" fill="#1a1a1a" textLength="107.49" lengthAdjust="spacingAndGlyphs" stroke="#1a1a1a" stroke-width="0.25">DWI Modality Accuracy</text>
<text x="529.52" y="547.65" font-size="8.20" fill="#1a1a1a" textLength="24.14" lengthAdjust="spacingAndGlyphs" stroke="#1a1a1a" stroke-width="0.25">Epoch</text>
<text transform="translate(370.00,422.05) rotate(-90)" x="-17.69" y="0" font-size="8.20" fill="#1a1a1a" textLength="35.41" lengthAdjust="spacingAndGlyphs" stroke="#1a1a1a" stroke-width="0.25">Accuracy</text>
<rect x="407.20" y="322.80" width="123.20" height="13.20" rx="1.6" fill="#fff" fill-opacity="0.8" stroke="#d6d6d6" stroke-width="0.8"/>
<line x1="409.20" y1="328.30" x2="426.00" y2="328.30" stroke="#1f77b4" stroke-width="1.2"/>
<text x="431.26" y="331.20" font-size="8.20" fill="#1a1a1a" textLength="96.28" lengthAdjust="spacingAndGlyphs" stroke="#1a1a1a" stroke-width="0.25">Validation Accuracy DWI</text>
<rect x="41.00" y="592.57" width="280.50" height="208.23" fill="none" stroke="#000" stroke-width="0.8"/>
<line x1="54.00" y1="791.41" x2="308.36" y2="601.57" stroke="#000080" stroke-width="1.6" stroke-dasharray="7.05 3.05"/>
<polyline points="54.0,791.4 54.0,601.6 308.4,601.6" fill="none" stroke="#ff8c00" stroke-width="1.7" stroke-linejoin="round" />
<line x1="54.00" y1="800.80" x2="54.00" y2="803.90" stroke="#000" stroke-width="0.8"/>
<text x="48.19" y="812.70" font-size="8.20" fill="#1a1a1a" textLength="11.63" lengthAdjust="spacingAndGlyphs" stroke="#1a1a1a" stroke-width="0.25">0.0</text>
<line x1="104.87" y1="800.80" x2="104.87" y2="803.90" stroke="#000" stroke-width="0.8"/>
<text x="99.19" y="812.70" font-size="8.20" fill="#1a1a1a" textLength="11.44" lengthAdjust="spacingAndGlyphs" stroke="#1a1a1a" stroke-width="0.25">0.2</text>
<line x1="155.74" y1="800.80" x2="155.74" y2="803.90" stroke="#000" stroke-width="0.8"/>
<text x="149.89" y="812.70" font-size="8.20" fill="#1a1a1a" textLength="11.62" lengthAdjust="spacingAndGlyphs" stroke="#1a1a1a" stroke-width="0.25">0.4</text>
<line x1="206.62" y1="800.80" x2="206.62" y2="803.90" stroke="#000" stroke-width="0.8"/>
<text x="200.78" y="812.70" font-size="8.20" fill="#1a1a1a" textLength="11.71" lengthAdjust="spacingAndGlyphs" stroke="#1a1a1a" stroke-width="0.25">0.6</text>
<line x1="257.49" y1="800.80" x2="257.49" y2="803.90" stroke="#000" stroke-width="0.8"/>
<text x="251.67" y="812.70" font-size="8.20" fill="#1a1a1a" textLength="11.63" lengthAdjust="spacingAndGlyphs" stroke="#1a1a1a" stroke-width="0.25">0.8</text>
<line x1="308.36" y1="800.80" x2="308.36" y2="803.90" stroke="#000" stroke-width="0.8"/>
<text x="302.42" y="812.70" font-size="8.20" fill="#1a1a1a" textLength="11.59" lengthAdjust="spacingAndGlyphs" stroke="#1a1a1a" stroke-width="0.25">1.0</text>
<line x1="37.90" y1="791.41" x2="41.00" y2="791.41" stroke="#000" stroke-width="0.8"/>
<text x="23.51" y="794.41" font-size="8.20" fill="#1a1a1a" textLength="11.63" lengthAdjust="spacingAndGlyphs" stroke="#1a1a1a" stroke-width="0.25">0.0</text>
<line x1="37.90" y1="753.44" x2="41.00" y2="753.44" stroke="#000" stroke-width="0.8"/>
<text x="23.77" y="756.44" font-size="8.20" fill="#1a1a1a" textLength="11.44" lengthAdjust="spacingAndGlyphs" stroke="#1a1a1a" stroke-width="0.25">0.2</text>
<line x1="37.90" y1="715.47" x2="41.00" y2="715.47" stroke="#000" stroke-width="0.8"/>
<text x="23.43" y="718.47" font-size="8.20" fill="#1a1a1a" textLength="11.62" lengthAdjust="spacingAndGlyphs" stroke="#1a1a1a" stroke-width="0.25">0.4</text>
<line x1="37.90" y1="677.51" x2="41.00" y2="677.51" stroke="#000" stroke-width="0.8"/>
<text x="23.47" y="680.51" font-size="8.20" fill="#1a1a1a" textLength="11.71" lengthAdjust="spacingAndGlyphs" stroke="#1a1a1a" stroke-width="0.25">0.6</text>
<line x1="37.90" y1="639.54" x2="41.00" y2="639.54" stroke="#000" stroke-width="0.8"/>
<text x="23.51" y="642.54" font-size="8.20" fill="#1a1a1a" textLength="11.63" lengthAdjust="spacingAndGlyphs" stroke="#1a1a1a" stroke-width="0.25">0.8</text>
<line x1="37.90" y1="601.57" x2="41.00" y2="601.57" stroke="#000" stroke-width="0.8"/>
<text x="23.55" y="604.57" font-size="8.20" fill="#1a1a1a" textLength="11.59" lengthAdjust="spacingAndGlyphs" stroke="#1a1a1a" stroke-width="0.25">1.0</text>
<text x="143.00" y="586.87" font-size="10.20" fill="#1a1a1a" textLength="76.56" lengthAdjust="spacingAndGlyphs" stroke="#1a1a1a" stroke-width="0.25">Train ROC Curve</text>
<text x="143.92" y="823.10" font-size="8.20" fill="#1a1a1a" textLength="73.67" lengthAdjust="spacingAndGlyphs" stroke="#1a1a1a" stroke-width="0.25">False Positive Rate</text>
<text transform="translate(18.50,696.70) rotate(-90)" x="-35.07" y="0" font-size="8.20" fill="#1a1a1a" textLength="70.35" lengthAdjust="spacingAndGlyphs" stroke="#1a1a1a" stroke-width="0.25">True Positive Rate</text>
<rect x="192.50" y="783.10" width="125.00" height="13.20" rx="1.6" fill="#fff" fill-opacity="0.8" stroke="#d6d6d6" stroke-width="0.8"/>
<line x1="194.90" y1="789.70" x2="212.40" y2="789.70" stroke="#ff8c00" stroke-width="1.7"/>
<text x="216.49" y="792.60" font-size="8.20" fill="#1a1a1a" textLength="97.66" lengthAdjust="spacingAndGlyphs" stroke="#1a1a1a" stroke-width="0.25">ROC curve (area = 1.00)</text>
<rect x="403.00" y="592.57" width="277.50" height="206.23" fill="none" stroke="#000" stroke-width="0.8"/>
<line x1="415.64" y1="789.48" x2="667.78" y2="601.50" stroke="#000080" stroke-width="1.6" stroke-dasharray="7.05 3.05"/>
<polyline points="415.6,789.5 415.6,601.5 667.8,601.5" fill="none" stroke="#ff8c00" stroke-width="1.7" stroke-linejoin="round" />
<line x1="415.64" y1="798.80" x2="415.64" y2="801.90" stroke="#000" stroke-width="0.8"/>
<text x="409.83" y="810.70" font-size="8.20" fill="#1a1a1a" textLength="11.63" lengthAdjust="spacingAndGlyphs" stroke="#1a1a1a" stroke-width="0.25">0.0</text>
<line x1="466.07" y1="798.80" x2="466.07" y2="801.90" stroke="#000" stroke-width="0.8"/>
<text x="460.39" y="810.70" font-size="8.20" fill="#1a1a1a" textLength="11.44" lengthAdjust="spacingAndGlyphs" stroke="#1a1a1a" stroke-width="0.25">0.2</text>
<line x1="516.50" y1="798.80" x2="516.50" y2="801.90" stroke="#000" stroke-width="0.8"/>
<text x="510.65" y="810.70" font-size="8.20" fill="#1a1a1a" textLength="11.62" lengthAdjust="spacingAndGlyphs" stroke="#1a1a1a" stroke-width="0.25">0.4</text>
<line x1="566.92" y1="798.80" x2="566.92" y2="801.90" stroke="#000" stroke-width="0.8"/>
<text x="561.09" y="810.70" font-size="8.20" fill="#1a1a1a" textLength="11.71" lengthAdjust="spacingAndGlyphs" stroke="#1a1a1a" stroke-width="0.25">0.6</text>
<line x1="617.35" y1="798.80" x2="617.35" y2="801.90" stroke="#000" stroke-width="0.8"/>
<text x="611.54" y="810.70" font-size="8.20" fill="#1a1a1a" textLength="11.63" lengthAdjust="spacingAndGlyphs" stroke="#1a1a1a" stroke-width="0.25">0.8</text>
<line x1="667.78" y1="798.80" x2="667.78" y2="801.90" stroke="#000" stroke-width="0.8"/>
<text x="661.84" y="810.70" font-size="8.20" fill="#1a1a1a" textLength="11.59" lengthAdjust="spacingAndGlyphs" stroke="#1a1a1a" stroke-width="0.25">1.0</text>
<line x1="399.90" y1="789.48" x2="403.00" y2="789.48" stroke="#000" stroke-width="0.8"/>
<text x="385.51" y="792.48" font-size="8.20" fill="#1a1a1a" textLength="11.63" lengthAdjust="spacingAndGlyphs" stroke="#1a1a1a" stroke-width="0.25">0.0</text>
<line x1="399.90" y1="751.88" x2="403.00" y2="751.88" stroke="#000" stroke-width="0.8"/>
<text x="385.77" y="754.88" font-size="8.20" fill="#1a1a1a" textLength="11.44" lengthAdjust="spacingAndGlyphs" stroke="#1a1a1a" stroke-width="0.25">0.2</text>
<line x1="399.90" y1="714.29" x2="403.00" y2="714.29" stroke="#000" stroke-width="0.8"/>
<text x="385.43" y="717.29" font-size="8.20" fill="#1a1a1a" textLength="11.62" lengthAdjust="spacingAndGlyphs" stroke="#1a1a1a" stroke-width="0.25">0.4</text>
<line x1="399.90" y1="676.69" x2="403.00" y2="676.69" stroke="#000" stroke-width="0.8"/>
<text x="385.47" y="679.69" font-size="8.20" fill="#1a1a1a" textLength="11.71" lengthAdjust="spacingAndGlyphs" stroke="#1a1a1a" stroke-width="0.25">0.6</text>
<line x1="399.90" y1="639.10" x2="403.00" y2="639.10" stroke="#000" stroke-width="0.8"/>
<text x="385.51" y="642.10" font-size="8.20" fill="#1a1a1a" textLength="11.63" lengthAdjust="spacingAndGlyphs" stroke="#1a1a1a" stroke-width="0.25">0.8</text>
<line x1="399.90" y1="601.50" x2="403.00" y2="601.50" stroke="#000" stroke-width="0.8"/>
<text x="385.55" y="604.50" font-size="8.20" fill="#1a1a1a" textLength="11.59" lengthAdjust="spacingAndGlyphs" stroke="#1a1a1a" stroke-width="0.25">1.0</text>
<text x="491.75" y="586.87" font-size="10.20" fill="#1a1a1a" textLength="99.34" lengthAdjust="spacingAndGlyphs" stroke="#1a1a1a" stroke-width="0.25">Validation ROC Curve</text>
<text x="504.62" y="821.10" font-size="8.20" fill="#1a1a1a" textLength="73.06" lengthAdjust="spacingAndGlyphs" stroke="#1a1a1a" stroke-width="0.25">False Positive Rate</text>
<text transform="translate(379.90,695.85) rotate(-90)" x="-34.52" y="0" font-size="8.20" fill="#1a1a1a" textLength="69.24" lengthAdjust="spacingAndGlyphs" stroke="#1a1a1a" stroke-width="0.25">True Positive Rate</text>
<rect x="553.10" y="781.00" width="123.40" height="13.30" rx="1.6" fill="#fff" fill-opacity="0.8" stroke="#d6d6d6" stroke-width="0.8"/>
<line x1="555.20" y1="787.40" x2="572.40" y2="787.40" stroke="#ff8c00" stroke-width="1.7"/>
<text x="576.99" y="790.30" font-size="8.20" fill="#1a1a1a" textLength="96.95" lengthAdjust="spacingAndGlyphs" stroke="#1a1a1a" stroke-width="0.25">ROC curve (area = 1.00)</text>
<text x="1.35" y="11.00" font-size="17.00" fill="#222" textLength="8.07" lengthAdjust="spacingAndGlyphs" stroke="#222" stroke-width="0.05">a</text>
<text x="369.92" y="22.60" font-size="17.40" fill="#222" textLength="10.13" lengthAdjust="spacingAndGlyphs" stroke="#222" stroke-width="0.05">b</text>
<text x="5.09" y="302.60" font-size="17.40" fill="#222" textLength="7.91" lengthAdjust="spacingAndGlyphs" stroke="#222" stroke-width="0.4">c</text>
<text x="363.24" y="306.40" font-size="17.40" fill="#222" textLength="10.51" lengthAdjust="spacingAndGlyphs" stroke="#222" stroke-width="0.05">d</text>
<text x="4.55" y="579.30" font-size="17.40" fill="#222" textLength="9.33" lengthAdjust="spacingAndGlyphs" stroke="#222" stroke-width="0.05">e</text>
<text x="365.77" y="580.00" font-size="17.40" fill="#222" textLength="6.08" lengthAdjust="spacingAndGlyphs" stroke="#222" stroke-width="0.05">f</text>
</g>
</svg>
</body></html>
